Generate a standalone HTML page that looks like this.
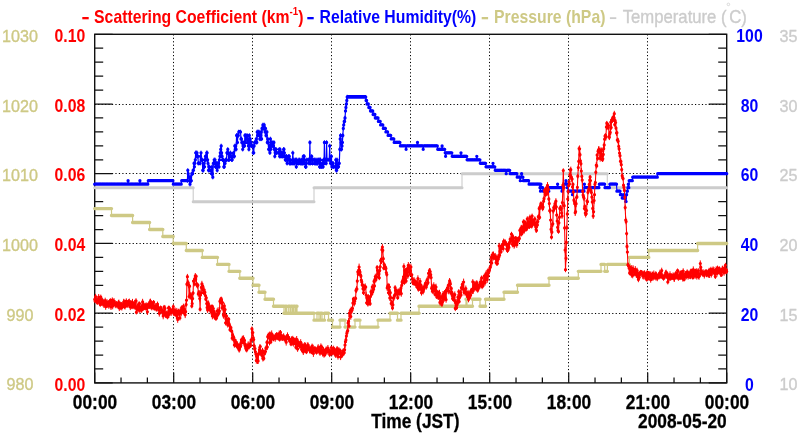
<!DOCTYPE html>
<html><head><meta charset="utf-8"><title>chart</title>
<style>
html,body{margin:0;padding:0;background:#fff;}
body{width:800px;height:434px;overflow:hidden;}
svg{display:block;font-family:"Liberation Sans",sans-serif;will-change:transform;}
</style></head><body>
<svg width="800" height="434" viewBox="0 0 800 434">
<rect width="800" height="434" fill="#fff"/>
<path d="M94.50 34.30V382.90M173.50 34.30V382.90M252.50 34.30V382.90M331.50 34.30V382.90M410.50 34.30V382.90M489.50 34.30V382.90M568.50 34.30V382.90M647.50 34.30V382.90M726.50 34.30V382.90M94.70 313.50H726.70M94.70 243.50H726.70M94.70 173.50H726.70M94.70 104.50H726.70" stroke="#000" stroke-width="1" stroke-dasharray="1.2 2.25" fill="none"/>
<path d="M94.70 382.90v-10.50M121.03 382.90v-5.50M147.37 382.90v-5.50M173.70 382.90v-10.50M200.03 382.90v-5.50M226.37 382.90v-5.50M252.70 382.90v-10.50M279.03 382.90v-5.50M305.37 382.90v-5.50M331.70 382.90v-10.50M358.03 382.90v-5.50M384.37 382.90v-5.50M410.70 382.90v-10.50M437.03 382.90v-5.50M463.37 382.90v-5.50M489.70 382.90v-10.50M516.03 382.90v-5.50M542.37 382.90v-5.50M568.70 382.90v-10.50M595.03 382.90v-5.50M621.37 382.90v-5.50M647.70 382.90v-10.50M674.03 382.90v-5.50M700.37 382.90v-5.50M726.70 382.90v-10.50M94.70 382.90h18.00M726.70 382.90h-18.00M94.70 368.96h8.50M726.70 368.96h-8.50M94.70 355.01h8.50M726.70 355.01h-8.50M94.70 341.07h8.50M726.70 341.07h-8.50M94.70 327.12h8.50M726.70 327.12h-8.50M94.70 313.18h18.00M726.70 313.18h-18.00M94.70 299.24h8.50M726.70 299.24h-8.50M94.70 285.29h8.50M726.70 285.29h-8.50M94.70 271.35h8.50M726.70 271.35h-8.50M94.70 257.40h8.50M726.70 257.40h-8.50M94.70 243.46h18.00M726.70 243.46h-18.00M94.70 229.52h8.50M726.70 229.52h-8.50M94.70 215.57h8.50M726.70 215.57h-8.50M94.70 201.63h8.50M726.70 201.63h-8.50M94.70 187.68h8.50M726.70 187.68h-8.50M94.70 173.74h18.00M726.70 173.74h-18.00M94.70 159.80h8.50M726.70 159.80h-8.50M94.70 145.85h8.50M726.70 145.85h-8.50M94.70 131.91h8.50M726.70 131.91h-8.50M94.70 117.96h8.50M726.70 117.96h-8.50M94.70 104.02h18.00M726.70 104.02h-18.00M94.70 90.08h8.50M726.70 90.08h-8.50M94.70 76.13h8.50M726.70 76.13h-8.50M94.70 62.19h8.50M726.70 62.19h-8.50M94.70 48.24h8.50M726.70 48.24h-8.50M94.70 34.30h18.00M726.70 34.30h-18.00" stroke="#111" stroke-width="1.25" fill="none"/>
<rect x="94.70" y="34.30" width="632.00" height="348.60" fill="none" stroke="#111" stroke-width="1.4"/>
<path d="M94.7 187.68H193.2V201.63H314.0V187.68H462.0V173.74H607.3V187.68H726.7" fill="none" stroke="#cccccc" stroke-width="1.1"/><path d="M94.7 187.68H193.2M193.2 201.63H314.0M314.0 187.68H462.0M462.0 173.74H607.3M607.3 187.68H726.7" fill="none" stroke="#cccccc" stroke-width="3.0" stroke-linecap="round"/>
<path d="M94.7 208.60H111.5V215.57H132.6V222.54H149.6V229.52H162.8V236.49H173.2V243.46H186.3V250.43H202.3V257.40H217.5V264.38H229.0V271.35H239.8V278.32H253.0V285.29H259.0V292.26H265.0V299.24H273.5V306.21H284.0V313.18H285.5V306.21H286.5V313.18H288.3V306.21H290.0V313.18H291.0V306.21H292.5V313.18H293.5V306.21H295.0V313.18H296.0V306.21H297.0V313.18H314.0V320.15H317.0V313.18H319.0V320.15H320.5V313.18H322.0V320.15H324.5V313.18H328.5V320.15H332.5V327.12H340.0V320.15H345.0V327.12H355.0V320.15H360.0V327.12H378.0V320.15H390.0V313.18H397.5V320.15H401.0V313.18H419.0V306.21H466.0V299.24H467.0V306.21H472.5V299.24H480.0V306.21H485.5V299.24H504.0V292.26H517.5V285.29H549.0V278.32H578.3V271.35H601.0V264.38H604.7V271.35H607.4V264.38H629.4V257.40H648.8V250.43H697.6V243.46H726.7" fill="none" stroke="#cec985" stroke-width="1.2"/><path d="M94.7 208.60H111.5M111.5 215.57H132.6M132.6 222.54H149.6M149.6 229.52H162.8M162.8 236.49H173.2M173.2 243.46H186.3M186.3 250.43H202.3M202.3 257.40H217.5M217.5 264.38H229.0M229.0 271.35H239.8M239.8 278.32H253.0M253.0 285.29H259.0M259.0 292.26H265.0M265.0 299.24H273.5M273.5 306.21H284.0M284.0 313.18H285.5M285.5 306.21H286.5M286.5 313.18H288.3M288.3 306.21H290.0M290.0 313.18H291.0M291.0 306.21H292.5M292.5 313.18H293.5M293.5 306.21H295.0M295.0 313.18H296.0M296.0 306.21H297.0M297.0 313.18H314.0M314.0 320.15H317.0M317.0 313.18H319.0M319.0 320.15H320.5M320.5 313.18H322.0M322.0 320.15H324.5M324.5 313.18H328.5M328.5 320.15H332.5M332.5 327.12H340.0M340.0 320.15H345.0M345.0 327.12H355.0M355.0 320.15H360.0M360.0 327.12H378.0M378.0 320.15H390.0M390.0 313.18H397.5M397.5 320.15H401.0M401.0 313.18H419.0M419.0 306.21H466.0M466.0 299.24H467.0M467.0 306.21H472.5M472.5 299.24H480.0M480.0 306.21H485.5M485.5 299.24H504.0M504.0 292.26H517.5M517.5 285.29H549.0M549.0 278.32H578.3M578.3 271.35H601.0M601.0 264.38H604.7M604.7 271.35H607.4M607.4 264.38H629.4M629.4 257.40H648.8M648.8 250.43H697.6M697.6 243.46H726.7" fill="none" stroke="#cec985" stroke-width="3.4" stroke-linecap="round"/>
<polyline points="94.7,184.2 95.1,184.2 95.6,184.2 96.0,184.2 96.5,184.2 96.9,184.2 97.3,184.2 97.8,184.2 98.2,184.2 98.7,184.2 99.1,184.2 99.5,184.2 100.0,184.2 100.4,184.2 100.8,184.2 101.3,184.2 101.7,184.2 102.2,184.2 102.6,184.2 103.0,184.2 103.5,184.2 103.9,184.2 104.4,184.2 104.8,184.2 105.2,184.2 105.7,184.2 106.1,184.2 106.6,184.2 107.0,184.2 107.4,184.2 107.9,184.2 108.3,184.2 108.8,184.2 109.2,184.2 109.6,184.2 110.1,184.2 110.5,184.2 111.0,184.2 111.4,184.2 111.8,184.2 112.3,184.2 112.7,184.2 113.1,184.2 113.6,184.2 114.0,184.2 114.5,184.2 114.9,184.2 115.3,184.2 115.8,184.2 116.2,184.2 116.7,184.2 117.1,184.2 117.5,184.2 118.0,184.2 118.4,184.2 118.9,184.2 119.3,184.2 119.7,184.2 120.2,184.2 120.6,184.2 121.1,184.2 121.5,184.2 121.9,184.2 122.4,184.2 122.8,184.2 123.2,184.2 123.7,184.2 124.1,184.2 124.6,184.2 125.0,184.2 125.4,184.2 125.9,184.2 126.3,184.2 126.8,184.2 127.2,184.2 127.6,184.2 128.1,180.7 128.5,184.2 129.0,184.2 129.4,184.2 129.8,184.2 130.3,184.2 130.7,184.2 131.2,184.2 131.6,184.2 132.0,184.2 132.5,184.2 132.9,184.2 133.3,184.2 133.8,184.2 134.2,184.2 134.7,184.2 135.1,184.2 135.5,184.2 136.0,184.2 136.4,184.2 136.9,184.2 137.3,184.2 137.7,184.2 138.2,184.2 138.6,184.2 139.1,184.2 139.5,184.2 139.9,180.7 140.4,184.2 140.8,184.2 141.3,184.2 141.7,184.2 142.1,184.2 142.6,184.2 143.0,184.2 143.5,184.2 143.9,184.2 144.3,184.2 144.8,184.2 145.2,184.2 145.6,184.2 146.1,184.2 146.5,184.2 147.0,184.2 147.4,184.2 147.8,184.2 148.3,180.7 148.7,180.7 149.2,180.7 149.6,180.7 150.0,180.7 150.5,180.7 150.9,180.7 151.4,180.7 151.8,180.7 152.2,180.7 152.7,180.7 153.1,180.7 153.6,180.7 154.0,180.7 154.4,180.7 154.9,180.7 155.3,180.7 155.7,180.7 156.2,180.7 156.6,180.7 157.1,180.7 157.5,180.7 157.9,180.7 158.4,180.7 158.8,180.7 159.3,180.7 159.7,180.7 160.1,180.7 160.6,180.7 161.0,180.7 161.5,180.7 161.9,180.7 162.3,180.7 162.8,180.7 163.2,180.7 163.7,180.7 164.1,180.7 164.5,180.7 165.0,180.7 165.4,180.7 165.8,180.7 166.3,180.7 166.7,180.7 167.2,180.7 167.6,180.7 168.0,180.7 168.5,180.7 168.9,180.7 169.4,180.7 169.8,180.7 170.2,180.7 170.7,180.7 171.1,180.7 171.6,180.7 172.0,180.7 172.4,180.7 172.9,180.7 173.3,184.2 173.8,184.2 174.2,184.2 174.6,184.2 175.1,184.2 175.5,184.2 176.0,184.2 176.4,184.2 176.8,184.2 177.3,184.2 177.7,184.2 178.1,184.2 178.6,184.2 179.0,184.2 179.5,184.2 179.9,184.2 180.3,184.2 180.8,184.2 181.2,184.2 181.7,180.7 182.1,180.7 182.5,180.7 183.0,180.7 183.4,180.7 183.9,180.7 184.3,180.7 184.7,180.7 185.2,180.7 185.6,180.7 186.1,180.7 186.5,180.7 186.9,180.7 187.4,180.7 187.8,170.3 188.2,173.7 188.7,177.2 189.1,177.2 189.6,180.7 190.0,184.2 190.4,177.2 190.9,180.7 191.3,180.7 191.8,173.7 192.2,173.7 192.6,173.7 193.1,170.3 193.5,170.3 194.0,163.3 194.4,166.8 194.8,163.3 195.3,159.8 195.7,152.8 196.2,152.8 196.6,156.3 197.0,152.8 197.5,156.3 197.9,156.3 198.3,163.3 198.8,163.3 199.2,163.3 199.7,163.3 200.1,163.3 200.5,156.3 201.0,152.8 201.4,159.8 201.9,159.8 202.3,159.8 202.7,170.3 203.2,170.3 203.6,166.8 204.1,163.3 204.5,166.8 204.9,159.8 205.4,156.3 205.8,159.8 206.3,156.3 206.7,152.8 207.1,152.8 207.6,159.8 208.0,163.3 208.5,170.3 208.9,166.8 209.3,166.8 209.8,170.3 210.2,170.3 210.6,170.3 211.1,170.3 211.5,173.7 212.0,166.8 212.4,173.7 212.8,177.2 213.3,163.3 213.7,163.3 214.2,159.8 214.6,163.3 215.0,159.8 215.5,166.8 215.9,163.3 216.4,163.3 216.8,166.8 217.2,170.3 217.7,163.3 218.1,163.3 218.6,163.3 219.0,166.8 219.4,159.8 219.9,156.3 220.3,152.8 220.7,149.3 221.2,145.9 221.6,152.8 222.1,156.3 222.5,159.8 222.9,159.8 223.4,159.8 223.8,166.8 224.3,166.8 224.7,163.3 225.1,163.3 225.6,159.8 226.0,159.8 226.5,159.8 226.9,152.8 227.3,152.8 227.8,149.3 228.2,152.8 228.7,159.8 229.1,159.8 229.5,156.3 230.0,156.3 230.4,152.8 230.9,156.3 231.3,156.3 231.7,159.8 232.2,159.8 232.6,156.3 233.0,156.3 233.5,152.8 233.9,156.3 234.4,156.3 234.8,145.9 235.2,149.3 235.7,145.9 236.1,149.3 236.6,135.4 237.0,135.4 237.4,142.4 237.9,135.4 238.3,135.4 238.8,131.9 239.2,131.9 239.6,131.9 240.1,131.9 240.5,131.9 241.0,138.9 241.4,138.9 241.8,142.4 242.3,142.4 242.7,149.3 243.1,145.9 243.6,145.9 244.0,142.4 244.5,145.9 244.9,135.4 245.3,142.4 245.8,135.4 246.2,138.9 246.7,138.9 247.1,135.4 247.5,142.4 248.0,138.9 248.4,145.9 248.9,149.3 249.3,135.4 249.7,145.9 250.2,138.9 250.6,142.4 251.1,142.4 251.5,145.9 251.9,145.9 252.4,145.9 252.8,145.9 253.2,152.8 253.7,152.8 254.1,145.9 254.6,142.4 255.0,142.4 255.4,142.4 255.9,142.4 256.3,138.9 256.8,142.4 257.2,131.9 257.6,135.4 258.1,131.9 258.5,131.9 259.0,131.9 259.4,135.4 259.8,138.9 260.3,138.9 260.7,135.4 261.2,131.9 261.6,138.9 262.0,128.4 262.5,128.4 262.9,124.9 263.4,128.4 263.8,128.4 264.2,124.9 264.7,128.4 265.1,131.9 265.5,128.4 266.0,135.4 266.4,135.4 266.9,131.9 267.3,142.4 267.7,138.9 268.2,142.4 268.6,149.3 269.1,149.3 269.5,145.9 269.9,152.8 270.4,138.9 270.8,149.3 271.3,142.4 271.7,145.9 272.1,142.4 272.6,145.9 273.0,145.9 273.5,145.9 273.9,142.4 274.3,149.3 274.8,156.3 275.2,152.8 275.6,149.3 276.1,149.3 276.5,152.8 277.0,152.8 277.4,152.8 277.8,152.8 278.3,152.8 278.7,152.8 279.2,149.3 279.6,156.3 280.0,149.3 280.5,152.8 280.9,156.3 281.4,152.8 281.8,152.8 282.2,156.3 282.7,152.8 283.1,156.3 283.6,149.3 284.0,149.3 284.4,152.8 284.9,156.3 285.3,159.8 285.7,159.8 286.2,156.3 286.6,156.3 287.1,163.3 287.5,159.8 287.9,159.8 288.4,156.3 288.8,159.8 289.3,156.3 289.7,163.3 290.1,163.3 290.6,159.8 291.0,163.3 291.5,163.3 291.9,163.3 292.3,163.3 292.8,152.8 293.2,159.8 293.7,163.3 294.1,163.3 294.5,163.3 295.0,159.8 295.4,159.8 295.9,159.8 296.3,166.8 296.7,159.8 297.2,163.3 297.6,163.3 298.0,163.3 298.5,163.3 298.9,159.8 299.4,159.8 299.8,159.8 300.2,163.3 300.7,163.3 301.1,163.3 301.6,159.8 302.0,163.3 302.4,163.3 302.9,159.8 303.3,156.3 303.8,163.3 304.2,156.3 304.6,159.8 305.1,163.3 305.5,166.8 306.0,166.8 306.4,163.3 306.8,159.8 307.3,159.8 307.7,159.8 308.1,159.8 308.6,159.8 309.0,163.3 309.5,159.8 309.9,142.4 310.3,163.3 310.8,159.8 311.2,159.8 311.7,156.3 312.1,159.8 312.5,163.3 313.0,159.8 313.4,159.8 313.9,159.8 314.3,159.8 314.7,163.3 315.2,159.8 315.6,163.3 316.1,163.3 316.5,163.3 316.9,159.8 317.4,163.3 317.8,163.3 318.2,159.8 318.7,159.8 319.1,159.8 319.6,166.8 320.0,159.8 320.4,159.8 320.9,166.8 321.3,166.8 321.8,166.8 322.2,163.3 322.6,163.3 323.1,166.8 323.5,159.8 324.0,163.3 324.4,142.4 324.8,159.8 325.3,159.8 325.7,159.8 326.2,163.3 326.6,142.4 327.0,159.8 327.5,159.8 327.9,159.8 328.4,159.8 328.8,159.8 329.2,159.8 329.7,145.9 330.1,159.8 330.5,163.3 331.0,163.3 331.4,156.3 331.9,166.8 332.3,163.3 332.7,163.3 333.2,163.3 333.6,166.8 334.1,166.8 334.5,166.8 334.9,166.8 335.4,166.8 335.8,159.8 336.3,170.3 336.7,170.3 337.1,159.8 337.6,166.8 338.0,166.8 338.5,166.8 338.9,163.3 339.3,163.3 339.8,149.3 340.2,138.9 340.6,135.4 341.1,142.4 341.5,149.3 342.0,145.9 342.4,142.4 342.8,135.4 343.3,128.4 343.7,124.9 344.2,121.4 344.6,121.4 345.0,118.0 345.5,111.0 345.9,107.5 346.4,104.0 346.8,100.5 347.2,97.0 347.7,97.0 348.1,97.0 348.6,97.0 349.0,97.0 349.4,97.0 349.9,97.0 350.3,97.0 350.8,97.0 351.2,97.0 351.6,97.0 352.1,97.0 352.5,97.0 352.9,97.0 353.4,97.0 353.8,97.0 354.3,97.0 354.7,97.0 355.1,97.0 355.6,97.0 356.0,97.0 356.5,97.0 356.9,97.0 357.3,97.0 357.8,97.0 358.2,97.0 358.7,97.0 359.1,97.0 359.5,97.0 360.0,97.0 360.4,97.0 360.9,97.0 361.3,97.0 361.7,97.0 362.2,97.0 362.6,97.0 363.0,97.0 363.5,97.0 363.9,97.0 364.4,97.0 364.8,97.0 365.2,97.0 365.7,97.0 366.1,100.5 366.6,100.5 367.0,104.0 367.4,104.0 367.9,104.0 368.3,104.0 368.8,107.5 369.2,107.5 369.6,107.5 370.1,107.5 370.5,111.0 371.0,111.0 371.4,111.0 371.8,111.0 372.3,111.0 372.7,111.0 373.1,114.5 373.6,114.5 374.0,114.5 374.5,114.5 374.9,114.5 375.3,118.0 375.8,118.0 376.2,118.0 376.7,118.0 377.1,118.0 377.5,118.0 378.0,118.0 378.4,121.4 378.9,121.4 379.3,121.4 379.7,121.4 380.2,121.4 380.6,124.9 381.1,124.9 381.5,124.9 381.9,124.9 382.4,124.9 382.8,124.9 383.3,128.4 383.7,128.4 384.1,128.4 384.6,128.4 385.0,128.4 385.4,128.4 385.9,131.9 386.3,131.9 386.8,131.9 387.2,131.9 387.6,131.9 388.1,135.4 388.5,135.4 389.0,135.4 389.4,135.4 389.8,135.4 390.3,135.4 390.7,135.4 391.2,138.9 391.6,138.9 392.0,138.9 392.5,138.9 392.9,138.9 393.4,138.9 393.8,138.9 394.2,142.4 394.7,142.4 395.1,142.4 395.5,142.4 396.0,142.4 396.4,142.4 396.9,142.4 397.3,142.4 397.7,142.4 398.2,142.4 398.6,142.4 399.1,142.4 399.5,142.4 399.9,142.4 400.4,145.9 400.8,145.9 401.3,145.9 401.7,145.9 402.1,145.9 402.6,145.9 403.0,145.9 403.5,145.9 403.9,145.9 404.3,145.9 404.8,145.9 405.2,145.9 405.6,145.9 406.1,149.3 406.5,145.9 407.0,145.9 407.4,145.9 407.8,145.9 408.3,145.9 408.7,145.9 409.2,145.9 409.6,145.9 410.0,145.9 410.5,145.9 410.9,145.9 411.4,145.9 411.8,145.9 412.2,145.9 412.7,145.9 413.1,145.9 413.6,145.9 414.0,145.9 414.4,145.9 414.9,145.9 415.3,145.9 415.8,145.9 416.2,145.9 416.6,145.9 417.1,145.9 417.5,142.4 417.9,145.9 418.4,145.9 418.8,145.9 419.3,145.9 419.7,145.9 420.1,145.9 420.6,145.9 421.0,145.9 421.5,145.9 421.9,145.9 422.3,145.9 422.8,145.9 423.2,149.3 423.7,145.9 424.1,145.9 424.5,145.9 425.0,145.9 425.4,145.9 425.9,145.9 426.3,145.9 426.7,145.9 427.2,145.9 427.6,145.9 428.0,145.9 428.5,145.9 428.9,145.9 429.4,145.9 429.8,145.9 430.2,145.9 430.7,145.9 431.1,145.9 431.6,145.9 432.0,145.9 432.4,145.9 432.9,145.9 433.3,145.9 433.8,145.9 434.2,145.9 434.6,145.9 435.1,145.9 435.5,145.9 436.0,145.9 436.4,145.9 436.8,145.9 437.3,145.9 437.7,149.3 438.1,149.3 438.6,149.3 439.0,149.3 439.5,149.3 439.9,149.3 440.3,149.3 440.8,149.3 441.2,149.3 441.7,149.3 442.1,145.9 442.5,149.3 443.0,149.3 443.4,149.3 443.9,149.3 444.3,149.3 444.7,149.3 445.2,152.8 445.6,156.3 446.1,152.8 446.5,152.8 446.9,152.8 447.4,152.8 447.8,152.8 448.3,152.8 448.7,152.8 449.1,152.8 449.6,152.8 450.0,152.8 450.4,152.8 450.9,152.8 451.3,152.8 451.8,152.8 452.2,156.3 452.6,156.3 453.1,156.3 453.5,156.3 454.0,156.3 454.4,156.3 454.8,156.3 455.3,156.3 455.7,156.3 456.2,156.3 456.6,156.3 457.0,156.3 457.5,156.3 457.9,156.3 458.4,156.3 458.8,156.3 459.2,156.3 459.7,156.3 460.1,156.3 460.5,156.3 461.0,152.8 461.4,156.3 461.9,156.3 462.3,156.3 462.7,156.3 463.2,156.3 463.6,156.3 464.1,156.3 464.5,156.3 464.9,156.3 465.4,156.3 465.8,156.3 466.3,156.3 466.7,156.3 467.1,159.8 467.6,159.8 468.0,159.8 468.5,159.8 468.9,159.8 469.3,159.8 469.8,159.8 470.2,159.8 470.6,159.8 471.1,159.8 471.5,159.8 472.0,159.8 472.4,159.8 472.8,159.8 473.3,159.8 473.7,159.8 474.2,159.8 474.6,159.8 475.0,159.8 475.5,159.8 475.9,159.8 476.4,159.8 476.8,156.3 477.2,159.8 477.7,159.8 478.1,159.8 478.6,159.8 479.0,159.8 479.4,159.8 479.9,159.8 480.3,163.3 480.8,163.3 481.2,163.3 481.6,163.3 482.1,163.3 482.5,163.3 482.9,163.3 483.4,163.3 483.8,163.3 484.3,163.3 484.7,163.3 485.1,163.3 485.6,163.3 486.0,166.8 486.5,166.8 486.9,166.8 487.3,166.8 487.8,166.8 488.2,166.8 488.7,166.8 489.1,166.8 489.5,166.8 490.0,166.8 490.4,166.8 490.9,166.8 491.3,166.8 491.7,166.8 492.2,166.8 492.6,166.8 493.0,163.3 493.5,166.8 493.9,166.8 494.4,166.8 494.8,166.8 495.2,170.3 495.7,170.3 496.1,170.3 496.6,170.3 497.0,170.3 497.4,170.3 497.9,170.3 498.3,170.3 498.8,170.3 499.2,170.3 499.6,170.3 500.1,170.3 500.5,170.3 501.0,170.3 501.4,170.3 501.8,170.3 502.3,170.3 502.7,170.3 503.2,170.3 503.6,170.3 504.0,170.3 504.5,170.3 504.9,170.3 505.3,170.3 505.8,170.3 506.2,173.7 506.7,170.3 507.1,170.3 507.5,170.3 508.0,170.3 508.4,170.3 508.9,170.3 509.3,170.3 509.7,170.3 510.2,173.7 510.6,173.7 511.1,173.7 511.5,173.7 511.9,173.7 512.4,173.7 512.8,173.7 513.3,173.7 513.7,173.7 514.1,173.7 514.6,173.7 515.0,173.7 515.4,173.7 515.9,173.7 516.3,173.7 516.8,173.7 517.2,177.2 517.6,177.2 518.1,177.2 518.5,177.2 519.0,177.2 519.4,177.2 519.8,177.2 520.3,180.7 520.7,177.2 521.2,177.2 521.6,173.7 522.0,177.2 522.5,177.2 522.9,177.2 523.4,180.7 523.8,180.7 524.2,180.7 524.7,180.7 525.1,180.7 525.5,180.7 526.0,180.7 526.4,180.7 526.9,180.7 527.3,180.7 527.7,180.7 528.2,180.7 528.6,180.7 529.1,184.2 529.5,184.2 529.9,184.2 530.4,184.2 530.8,184.2 531.3,184.2 531.7,184.2 532.1,184.2 532.6,184.2 533.0,184.2 533.5,184.2 533.9,184.2 534.3,184.2 534.8,184.2 535.2,184.2 535.7,184.2 536.1,184.2 536.5,184.2 537.0,184.2 537.4,184.2 537.8,184.2 538.3,184.2 538.7,184.2 539.2,184.2 539.6,184.2 540.0,187.7 540.5,191.2 540.9,184.2 541.4,187.7 541.8,187.7 542.2,187.7 542.7,187.7 543.1,191.2 543.6,191.2 544.0,191.2 544.4,191.2 544.9,191.2 545.3,191.2 545.8,191.2 546.2,191.2 546.6,191.2 547.1,191.2 547.5,191.2 547.9,191.2 548.4,191.2 548.8,191.2 549.3,187.7 549.7,187.7 550.1,187.7 550.6,187.7 551.0,187.7 551.5,187.7 551.9,187.7 552.3,187.7 552.8,187.7 553.2,187.7 553.7,187.7 554.1,187.7 554.5,187.7 555.0,187.7 555.4,187.7 555.9,187.7 556.3,187.7 556.7,187.7 557.2,187.7 557.6,184.2 558.0,187.7 558.5,187.7 558.9,187.7 559.4,187.7 559.8,187.7 560.2,187.7 560.7,187.7 561.1,187.7 561.6,187.7 562.0,191.2 562.4,187.7 562.9,187.7 563.3,187.7 563.8,187.7 564.2,184.2 564.6,184.2 565.1,184.2 565.5,184.2 566.0,180.7 566.4,184.2 566.8,184.2 567.3,187.7 567.7,184.2 568.2,191.2 568.6,191.2 569.0,191.2 569.5,191.2 569.9,191.2 570.3,191.2 570.8,191.2 571.2,191.2 571.7,191.2 572.1,191.2 572.5,194.7 573.0,191.2 573.4,191.2 573.9,191.2 574.3,191.2 574.7,191.2 575.2,191.2 575.6,191.2 576.1,191.2 576.5,191.2 576.9,191.2 577.4,191.2 577.8,191.2 578.3,191.2 578.7,191.2 579.1,191.2 579.6,191.2 580.0,191.2 580.4,191.2 580.9,191.2 581.3,191.2 581.8,191.2 582.2,191.2 582.6,191.2 583.1,191.2 583.5,191.2 584.0,191.2 584.4,184.2 584.8,187.7 585.3,187.7 585.7,187.7 586.2,187.7 586.6,187.7 587.0,187.7 587.5,187.7 587.9,187.7 588.4,187.7 588.8,187.7 589.2,187.7 589.7,187.7 590.1,187.7 590.5,187.7 591.0,187.7 591.4,187.7 591.9,187.7 592.3,187.7 592.7,187.7 593.2,187.7 593.6,187.7 594.1,187.7 594.5,187.7 594.9,187.7 595.4,187.7 595.8,187.7 596.3,187.7 596.7,187.7 597.1,187.7 597.6,187.7 598.0,187.7 598.5,187.7 598.9,187.7 599.3,184.2 599.8,184.2 600.2,184.2 600.7,184.2 601.1,184.2 601.5,184.2 602.0,184.2 602.4,184.2 602.8,184.2 603.3,184.2 603.7,184.2 604.2,184.2 604.6,184.2 605.0,187.7 605.5,187.7 605.9,187.7 606.4,187.7 606.8,187.7 607.2,187.7 607.7,187.7 608.1,187.7 608.6,187.7 609.0,187.7 609.4,187.7 609.9,184.2 610.3,184.2 610.8,184.2 611.2,184.2 611.6,184.2 612.1,184.2 612.5,184.2 612.9,184.2 613.4,184.2 613.8,184.2 614.3,184.2 614.7,184.2 615.1,184.2 615.6,184.2 616.0,184.2 616.5,184.2 616.9,191.2 617.3,191.2 617.8,191.2 618.2,191.2 618.7,191.2 619.1,191.2 619.5,191.2 620.0,191.2 620.4,194.7 620.9,194.7 621.3,194.7 621.7,194.7 622.2,198.1 622.6,198.1 623.1,198.1 623.5,198.1 623.9,194.7 624.4,198.1 624.8,198.1 625.2,198.1 625.7,201.6 626.1,201.6 626.6,194.7 627.0,191.2 627.4,191.2 627.9,187.7 628.3,184.2 628.8,187.7 629.2,180.7 629.6,180.7 630.1,180.7 630.5,180.7 631.0,180.7 631.4,180.7 631.8,180.7 632.3,180.7 632.7,177.2 633.2,177.2 633.6,177.2 634.0,177.2 634.5,177.2 634.9,177.2 635.3,177.2 635.8,177.2 636.2,177.2 636.7,177.2 637.1,177.2 637.5,177.2 638.0,177.2 638.4,177.2 638.9,177.2 639.3,177.2 639.7,177.2 640.2,177.2 640.6,177.2 641.1,177.2 641.5,177.2 641.9,177.2 642.4,177.2 642.8,177.2 643.3,177.2 643.7,177.2 644.1,177.2 644.6,177.2 645.0,177.2 645.4,177.2 645.9,177.2 646.3,177.2 646.8,177.2 647.2,177.2 647.6,177.2 648.1,177.2 648.5,177.2 649.0,177.2 649.4,177.2 649.8,177.2 650.3,177.2 650.7,177.2 651.2,177.2 651.6,177.2 652.0,177.2 652.5,177.2 652.9,177.2 653.4,177.2 653.8,177.2 654.2,177.2 654.7,177.2 655.1,177.2 655.6,177.2 656.0,177.2 656.4,177.2 656.9,177.2 657.3,177.2 657.7,173.7 658.2,173.7 658.6,173.7 659.1,173.7 659.5,173.7 659.9,173.7 660.4,173.7 660.8,173.7 661.3,173.7 661.7,173.7 662.1,173.7 662.6,173.7 663.0,173.7 663.5,173.7 663.9,173.7 664.3,173.7 664.8,173.7 665.2,173.7 665.7,173.7 666.1,173.7 666.5,173.7 667.0,173.7 667.4,173.7 667.8,173.7 668.3,173.7 668.7,173.7 669.2,173.7 669.6,173.7 670.0,173.7 670.5,173.7 670.9,173.7 671.4,173.7 671.8,173.7 672.2,173.7 672.7,173.7 673.1,173.7 673.6,173.7 674.0,173.7 674.4,173.7 674.9,173.7 675.3,173.7 675.8,173.7 676.2,173.7 676.6,173.7 677.1,173.7 677.5,173.7 677.9,173.7 678.4,173.7 678.8,173.7 679.3,173.7 679.7,173.7 680.1,173.7 680.6,173.7 681.0,173.7 681.5,173.7 681.9,173.7 682.3,173.7 682.8,173.7 683.2,173.7 683.7,173.7 684.1,173.7 684.5,173.7 685.0,173.7 685.4,173.7 685.9,173.7 686.3,173.7 686.7,173.7 687.2,173.7 687.6,173.7 688.1,173.7 688.5,173.7 688.9,173.7 689.4,173.7 689.8,173.7 690.2,173.7 690.7,173.7 691.1,173.7 691.6,173.7 692.0,173.7 692.4,173.7 692.9,173.7 693.3,173.7 693.8,173.7 694.2,173.7 694.6,173.7 695.1,173.7 695.5,173.7 696.0,173.7 696.4,173.7 696.8,173.7 697.3,173.7 697.7,173.7 698.2,173.7 698.6,173.7 699.0,173.7 699.5,173.7 699.9,173.7 700.3,173.7 700.8,173.7 701.2,173.7 701.7,173.7 702.1,173.7 702.5,173.7 703.0,173.7 703.4,173.7 703.9,173.7 704.3,173.7 704.7,173.7 705.2,173.7 705.6,173.7 706.1,173.7 706.5,173.7 706.9,173.7 707.4,173.7 707.8,173.7 708.3,173.7 708.7,173.7 709.1,173.7 709.6,173.7 710.0,173.7 710.4,173.7 710.9,173.7 711.3,173.7 711.8,173.7 712.2,173.7 712.6,173.7 713.1,173.7 713.5,173.7 714.0,173.7 714.4,173.7 714.8,173.7 715.3,173.7 715.7,173.7 716.2,173.7 716.6,173.7 717.0,173.7 717.5,173.7 717.9,173.7 718.4,173.7 718.8,173.7 719.2,173.7 719.7,173.7 720.1,173.7 720.6,173.7 721.0,173.7 721.4,173.7 721.9,173.7 722.3,173.7 722.7,173.7 723.2,173.7 723.6,173.7 724.1,173.7 724.5,173.7 724.9,173.7 725.4,173.7 725.8,173.7 726.3,173.7 726.7,173.7" fill="none" stroke="#0000ff" stroke-width="1.2" stroke-linejoin="round"/><path d="M94.7 184.2h.01M95.1 184.2h.01M95.6 184.2h.01M96.0 184.2h.01M96.5 184.2h.01M96.9 184.2h.01M97.3 184.2h.01M97.8 184.2h.01M98.2 184.2h.01M98.7 184.2h.01M99.1 184.2h.01M99.5 184.2h.01M100.0 184.2h.01M100.4 184.2h.01M100.8 184.2h.01M101.3 184.2h.01M101.7 184.2h.01M102.2 184.2h.01M102.6 184.2h.01M103.0 184.2h.01M103.5 184.2h.01M103.9 184.2h.01M104.4 184.2h.01M104.8 184.2h.01M105.2 184.2h.01M105.7 184.2h.01M106.1 184.2h.01M106.6 184.2h.01M107.0 184.2h.01M107.4 184.2h.01M107.9 184.2h.01M108.3 184.2h.01M108.8 184.2h.01M109.2 184.2h.01M109.6 184.2h.01M110.1 184.2h.01M110.5 184.2h.01M111.0 184.2h.01M111.4 184.2h.01M111.8 184.2h.01M112.3 184.2h.01M112.7 184.2h.01M113.1 184.2h.01M113.6 184.2h.01M114.0 184.2h.01M114.5 184.2h.01M114.9 184.2h.01M115.3 184.2h.01M115.8 184.2h.01M116.2 184.2h.01M116.7 184.2h.01M117.1 184.2h.01M117.5 184.2h.01M118.0 184.2h.01M118.4 184.2h.01M118.9 184.2h.01M119.3 184.2h.01M119.7 184.2h.01M120.2 184.2h.01M120.6 184.2h.01M121.1 184.2h.01M121.5 184.2h.01M121.9 184.2h.01M122.4 184.2h.01M122.8 184.2h.01M123.2 184.2h.01M123.7 184.2h.01M124.1 184.2h.01M124.6 184.2h.01M125.0 184.2h.01M125.4 184.2h.01M125.9 184.2h.01M126.3 184.2h.01M126.8 184.2h.01M127.2 184.2h.01M127.6 184.2h.01M128.1 180.7h.01M128.5 184.2h.01M129.0 184.2h.01M129.4 184.2h.01M129.8 184.2h.01M130.3 184.2h.01M130.7 184.2h.01M131.2 184.2h.01M131.6 184.2h.01M132.0 184.2h.01M132.5 184.2h.01M132.9 184.2h.01M133.3 184.2h.01M133.8 184.2h.01M134.2 184.2h.01M134.7 184.2h.01M135.1 184.2h.01M135.5 184.2h.01M136.0 184.2h.01M136.4 184.2h.01M136.9 184.2h.01M137.3 184.2h.01M137.7 184.2h.01M138.2 184.2h.01M138.6 184.2h.01M139.1 184.2h.01M139.5 184.2h.01M139.9 180.7h.01M140.4 184.2h.01M140.8 184.2h.01M141.3 184.2h.01M141.7 184.2h.01M142.1 184.2h.01M142.6 184.2h.01M143.0 184.2h.01M143.5 184.2h.01M143.9 184.2h.01M144.3 184.2h.01M144.8 184.2h.01M145.2 184.2h.01M145.6 184.2h.01M146.1 184.2h.01M146.5 184.2h.01M147.0 184.2h.01M147.4 184.2h.01M147.8 184.2h.01M148.3 180.7h.01M148.7 180.7h.01M149.2 180.7h.01M149.6 180.7h.01M150.0 180.7h.01M150.5 180.7h.01M150.9 180.7h.01M151.4 180.7h.01M151.8 180.7h.01M152.2 180.7h.01M152.7 180.7h.01M153.1 180.7h.01M153.6 180.7h.01M154.0 180.7h.01M154.4 180.7h.01M154.9 180.7h.01M155.3 180.7h.01M155.7 180.7h.01M156.2 180.7h.01M156.6 180.7h.01M157.1 180.7h.01M157.5 180.7h.01M157.9 180.7h.01M158.4 180.7h.01M158.8 180.7h.01M159.3 180.7h.01M159.7 180.7h.01M160.1 180.7h.01M160.6 180.7h.01M161.0 180.7h.01M161.5 180.7h.01M161.9 180.7h.01M162.3 180.7h.01M162.8 180.7h.01M163.2 180.7h.01M163.7 180.7h.01M164.1 180.7h.01M164.5 180.7h.01M165.0 180.7h.01M165.4 180.7h.01M165.8 180.7h.01M166.3 180.7h.01M166.7 180.7h.01M167.2 180.7h.01M167.6 180.7h.01M168.0 180.7h.01M168.5 180.7h.01M168.9 180.7h.01M169.4 180.7h.01M169.8 180.7h.01M170.2 180.7h.01M170.7 180.7h.01M171.1 180.7h.01M171.6 180.7h.01M172.0 180.7h.01M172.4 180.7h.01M172.9 180.7h.01M173.3 184.2h.01M173.8 184.2h.01M174.2 184.2h.01M174.6 184.2h.01M175.1 184.2h.01M175.5 184.2h.01M176.0 184.2h.01M176.4 184.2h.01M176.8 184.2h.01M177.3 184.2h.01M177.7 184.2h.01M178.1 184.2h.01M178.6 184.2h.01M179.0 184.2h.01M179.5 184.2h.01M179.9 184.2h.01M180.3 184.2h.01M180.8 184.2h.01M181.2 184.2h.01M181.7 180.7h.01M182.1 180.7h.01M182.5 180.7h.01M183.0 180.7h.01M183.4 180.7h.01M183.9 180.7h.01M184.3 180.7h.01M184.7 180.7h.01M185.2 180.7h.01M185.6 180.7h.01M186.1 180.7h.01M186.5 180.7h.01M186.9 180.7h.01M187.4 180.7h.01M187.8 170.3h.01M188.2 173.7h.01M188.7 177.2h.01M189.1 177.2h.01M189.6 180.7h.01M190.0 184.2h.01M190.4 177.2h.01M190.9 180.7h.01M191.3 180.7h.01M191.8 173.7h.01M192.2 173.7h.01M192.6 173.7h.01M193.1 170.3h.01M193.5 170.3h.01M194.0 163.3h.01M194.4 166.8h.01M194.8 163.3h.01M195.3 159.8h.01M195.7 152.8h.01M196.2 152.8h.01M196.6 156.3h.01M197.0 152.8h.01M197.5 156.3h.01M197.9 156.3h.01M198.3 163.3h.01M198.8 163.3h.01M199.2 163.3h.01M199.7 163.3h.01M200.1 163.3h.01M200.5 156.3h.01M201.0 152.8h.01M201.4 159.8h.01M201.9 159.8h.01M202.3 159.8h.01M202.7 170.3h.01M203.2 170.3h.01M203.6 166.8h.01M204.1 163.3h.01M204.5 166.8h.01M204.9 159.8h.01M205.4 156.3h.01M205.8 159.8h.01M206.3 156.3h.01M206.7 152.8h.01M207.1 152.8h.01M207.6 159.8h.01M208.0 163.3h.01M208.5 170.3h.01M208.9 166.8h.01M209.3 166.8h.01M209.8 170.3h.01M210.2 170.3h.01M210.6 170.3h.01M211.1 170.3h.01M211.5 173.7h.01M212.0 166.8h.01M212.4 173.7h.01M212.8 177.2h.01M213.3 163.3h.01M213.7 163.3h.01M214.2 159.8h.01M214.6 163.3h.01M215.0 159.8h.01M215.5 166.8h.01M215.9 163.3h.01M216.4 163.3h.01M216.8 166.8h.01M217.2 170.3h.01M217.7 163.3h.01M218.1 163.3h.01M218.6 163.3h.01M219.0 166.8h.01M219.4 159.8h.01M219.9 156.3h.01M220.3 152.8h.01M220.7 149.3h.01M221.2 145.9h.01M221.6 152.8h.01M222.1 156.3h.01M222.5 159.8h.01M222.9 159.8h.01M223.4 159.8h.01M223.8 166.8h.01M224.3 166.8h.01M224.7 163.3h.01M225.1 163.3h.01M225.6 159.8h.01M226.0 159.8h.01M226.5 159.8h.01M226.9 152.8h.01M227.3 152.8h.01M227.8 149.3h.01M228.2 152.8h.01M228.7 159.8h.01M229.1 159.8h.01M229.5 156.3h.01M230.0 156.3h.01M230.4 152.8h.01M230.9 156.3h.01M231.3 156.3h.01M231.7 159.8h.01M232.2 159.8h.01M232.6 156.3h.01M233.0 156.3h.01M233.5 152.8h.01M233.9 156.3h.01M234.4 156.3h.01M234.8 145.9h.01M235.2 149.3h.01M235.7 145.9h.01M236.1 149.3h.01M236.6 135.4h.01M237.0 135.4h.01M237.4 142.4h.01M237.9 135.4h.01M238.3 135.4h.01M238.8 131.9h.01M239.2 131.9h.01M239.6 131.9h.01M240.1 131.9h.01M240.5 131.9h.01M241.0 138.9h.01M241.4 138.9h.01M241.8 142.4h.01M242.3 142.4h.01M242.7 149.3h.01M243.1 145.9h.01M243.6 145.9h.01M244.0 142.4h.01M244.5 145.9h.01M244.9 135.4h.01M245.3 142.4h.01M245.8 135.4h.01M246.2 138.9h.01M246.7 138.9h.01M247.1 135.4h.01M247.5 142.4h.01M248.0 138.9h.01M248.4 145.9h.01M248.9 149.3h.01M249.3 135.4h.01M249.7 145.9h.01M250.2 138.9h.01M250.6 142.4h.01M251.1 142.4h.01M251.5 145.9h.01M251.9 145.9h.01M252.4 145.9h.01M252.8 145.9h.01M253.2 152.8h.01M253.7 152.8h.01M254.1 145.9h.01M254.6 142.4h.01M255.0 142.4h.01M255.4 142.4h.01M255.9 142.4h.01M256.3 138.9h.01M256.8 142.4h.01M257.2 131.9h.01M257.6 135.4h.01M258.1 131.9h.01M258.5 131.9h.01M259.0 131.9h.01M259.4 135.4h.01M259.8 138.9h.01M260.3 138.9h.01M260.7 135.4h.01M261.2 131.9h.01M261.6 138.9h.01M262.0 128.4h.01M262.5 128.4h.01M262.9 124.9h.01M263.4 128.4h.01M263.8 128.4h.01M264.2 124.9h.01M264.7 128.4h.01M265.1 131.9h.01M265.5 128.4h.01M266.0 135.4h.01M266.4 135.4h.01M266.9 131.9h.01M267.3 142.4h.01M267.7 138.9h.01M268.2 142.4h.01M268.6 149.3h.01M269.1 149.3h.01M269.5 145.9h.01M269.9 152.8h.01M270.4 138.9h.01M270.8 149.3h.01M271.3 142.4h.01M271.7 145.9h.01M272.1 142.4h.01M272.6 145.9h.01M273.0 145.9h.01M273.5 145.9h.01M273.9 142.4h.01M274.3 149.3h.01M274.8 156.3h.01M275.2 152.8h.01M275.6 149.3h.01M276.1 149.3h.01M276.5 152.8h.01M277.0 152.8h.01M277.4 152.8h.01M277.8 152.8h.01M278.3 152.8h.01M278.7 152.8h.01M279.2 149.3h.01M279.6 156.3h.01M280.0 149.3h.01M280.5 152.8h.01M280.9 156.3h.01M281.4 152.8h.01M281.8 152.8h.01M282.2 156.3h.01M282.7 152.8h.01M283.1 156.3h.01M283.6 149.3h.01M284.0 149.3h.01M284.4 152.8h.01M284.9 156.3h.01M285.3 159.8h.01M285.7 159.8h.01M286.2 156.3h.01M286.6 156.3h.01M287.1 163.3h.01M287.5 159.8h.01M287.9 159.8h.01M288.4 156.3h.01M288.8 159.8h.01M289.3 156.3h.01M289.7 163.3h.01M290.1 163.3h.01M290.6 159.8h.01M291.0 163.3h.01M291.5 163.3h.01M291.9 163.3h.01M292.3 163.3h.01M292.8 152.8h.01M293.2 159.8h.01M293.7 163.3h.01M294.1 163.3h.01M294.5 163.3h.01M295.0 159.8h.01M295.4 159.8h.01M295.9 159.8h.01M296.3 166.8h.01M296.7 159.8h.01M297.2 163.3h.01M297.6 163.3h.01M298.0 163.3h.01M298.5 163.3h.01M298.9 159.8h.01M299.4 159.8h.01M299.8 159.8h.01M300.2 163.3h.01M300.7 163.3h.01M301.1 163.3h.01M301.6 159.8h.01M302.0 163.3h.01M302.4 163.3h.01M302.9 159.8h.01M303.3 156.3h.01M303.8 163.3h.01M304.2 156.3h.01M304.6 159.8h.01M305.1 163.3h.01M305.5 166.8h.01M306.0 166.8h.01M306.4 163.3h.01M306.8 159.8h.01M307.3 159.8h.01M307.7 159.8h.01M308.1 159.8h.01M308.6 159.8h.01M309.0 163.3h.01M309.5 159.8h.01M309.9 142.4h.01M310.3 163.3h.01M310.8 159.8h.01M311.2 159.8h.01M311.7 156.3h.01M312.1 159.8h.01M312.5 163.3h.01M313.0 159.8h.01M313.4 159.8h.01M313.9 159.8h.01M314.3 159.8h.01M314.7 163.3h.01M315.2 159.8h.01M315.6 163.3h.01M316.1 163.3h.01M316.5 163.3h.01M316.9 159.8h.01M317.4 163.3h.01M317.8 163.3h.01M318.2 159.8h.01M318.7 159.8h.01M319.1 159.8h.01M319.6 166.8h.01M320.0 159.8h.01M320.4 159.8h.01M320.9 166.8h.01M321.3 166.8h.01M321.8 166.8h.01M322.2 163.3h.01M322.6 163.3h.01M323.1 166.8h.01M323.5 159.8h.01M324.0 163.3h.01M324.4 142.4h.01M324.8 159.8h.01M325.3 159.8h.01M325.7 159.8h.01M326.2 163.3h.01M326.6 142.4h.01M327.0 159.8h.01M327.5 159.8h.01M327.9 159.8h.01M328.4 159.8h.01M328.8 159.8h.01M329.2 159.8h.01M329.7 145.9h.01M330.1 159.8h.01M330.5 163.3h.01M331.0 163.3h.01M331.4 156.3h.01M331.9 166.8h.01M332.3 163.3h.01M332.7 163.3h.01M333.2 163.3h.01M333.6 166.8h.01M334.1 166.8h.01M334.5 166.8h.01M334.9 166.8h.01M335.4 166.8h.01M335.8 159.8h.01M336.3 170.3h.01M336.7 170.3h.01M337.1 159.8h.01M337.6 166.8h.01M338.0 166.8h.01M338.5 166.8h.01M338.9 163.3h.01M339.3 163.3h.01M339.8 149.3h.01M340.2 138.9h.01M340.6 135.4h.01M341.1 142.4h.01M341.5 149.3h.01M342.0 145.9h.01M342.4 142.4h.01M342.8 135.4h.01M343.3 128.4h.01M343.7 124.9h.01M344.2 121.4h.01M344.6 121.4h.01M345.0 118.0h.01M345.5 111.0h.01M345.9 107.5h.01M346.4 104.0h.01M346.8 100.5h.01M347.2 97.0h.01M347.7 97.0h.01M348.1 97.0h.01M348.6 97.0h.01M349.0 97.0h.01M349.4 97.0h.01M349.9 97.0h.01M350.3 97.0h.01M350.8 97.0h.01M351.2 97.0h.01M351.6 97.0h.01M352.1 97.0h.01M352.5 97.0h.01M352.9 97.0h.01M353.4 97.0h.01M353.8 97.0h.01M354.3 97.0h.01M354.7 97.0h.01M355.1 97.0h.01M355.6 97.0h.01M356.0 97.0h.01M356.5 97.0h.01M356.9 97.0h.01M357.3 97.0h.01M357.8 97.0h.01M358.2 97.0h.01M358.7 97.0h.01M359.1 97.0h.01M359.5 97.0h.01M360.0 97.0h.01M360.4 97.0h.01M360.9 97.0h.01M361.3 97.0h.01M361.7 97.0h.01M362.2 97.0h.01M362.6 97.0h.01M363.0 97.0h.01M363.5 97.0h.01M363.9 97.0h.01M364.4 97.0h.01M364.8 97.0h.01M365.2 97.0h.01M365.7 97.0h.01M366.1 100.5h.01M366.6 100.5h.01M367.0 104.0h.01M367.4 104.0h.01M367.9 104.0h.01M368.3 104.0h.01M368.8 107.5h.01M369.2 107.5h.01M369.6 107.5h.01M370.1 107.5h.01M370.5 111.0h.01M371.0 111.0h.01M371.4 111.0h.01M371.8 111.0h.01M372.3 111.0h.01M372.7 111.0h.01M373.1 114.5h.01M373.6 114.5h.01M374.0 114.5h.01M374.5 114.5h.01M374.9 114.5h.01M375.3 118.0h.01M375.8 118.0h.01M376.2 118.0h.01M376.7 118.0h.01M377.1 118.0h.01M377.5 118.0h.01M378.0 118.0h.01M378.4 121.4h.01M378.9 121.4h.01M379.3 121.4h.01M379.7 121.4h.01M380.2 121.4h.01M380.6 124.9h.01M381.1 124.9h.01M381.5 124.9h.01M381.9 124.9h.01M382.4 124.9h.01M382.8 124.9h.01M383.3 128.4h.01M383.7 128.4h.01M384.1 128.4h.01M384.6 128.4h.01M385.0 128.4h.01M385.4 128.4h.01M385.9 131.9h.01M386.3 131.9h.01M386.8 131.9h.01M387.2 131.9h.01M387.6 131.9h.01M388.1 135.4h.01M388.5 135.4h.01M389.0 135.4h.01M389.4 135.4h.01M389.8 135.4h.01M390.3 135.4h.01M390.7 135.4h.01M391.2 138.9h.01M391.6 138.9h.01M392.0 138.9h.01M392.5 138.9h.01M392.9 138.9h.01M393.4 138.9h.01M393.8 138.9h.01M394.2 142.4h.01M394.7 142.4h.01M395.1 142.4h.01M395.5 142.4h.01M396.0 142.4h.01M396.4 142.4h.01M396.9 142.4h.01M397.3 142.4h.01M397.7 142.4h.01M398.2 142.4h.01M398.6 142.4h.01M399.1 142.4h.01M399.5 142.4h.01M399.9 142.4h.01M400.4 145.9h.01M400.8 145.9h.01M401.3 145.9h.01M401.7 145.9h.01M402.1 145.9h.01M402.6 145.9h.01M403.0 145.9h.01M403.5 145.9h.01M403.9 145.9h.01M404.3 145.9h.01M404.8 145.9h.01M405.2 145.9h.01M405.6 145.9h.01M406.1 149.3h.01M406.5 145.9h.01M407.0 145.9h.01M407.4 145.9h.01M407.8 145.9h.01M408.3 145.9h.01M408.7 145.9h.01M409.2 145.9h.01M409.6 145.9h.01M410.0 145.9h.01M410.5 145.9h.01M410.9 145.9h.01M411.4 145.9h.01M411.8 145.9h.01M412.2 145.9h.01M412.7 145.9h.01M413.1 145.9h.01M413.6 145.9h.01M414.0 145.9h.01M414.4 145.9h.01M414.9 145.9h.01M415.3 145.9h.01M415.8 145.9h.01M416.2 145.9h.01M416.6 145.9h.01M417.1 145.9h.01M417.5 142.4h.01M417.9 145.9h.01M418.4 145.9h.01M418.8 145.9h.01M419.3 145.9h.01M419.7 145.9h.01M420.1 145.9h.01M420.6 145.9h.01M421.0 145.9h.01M421.5 145.9h.01M421.9 145.9h.01M422.3 145.9h.01M422.8 145.9h.01M423.2 149.3h.01M423.7 145.9h.01M424.1 145.9h.01M424.5 145.9h.01M425.0 145.9h.01M425.4 145.9h.01M425.9 145.9h.01M426.3 145.9h.01M426.7 145.9h.01M427.2 145.9h.01M427.6 145.9h.01M428.0 145.9h.01M428.5 145.9h.01M428.9 145.9h.01M429.4 145.9h.01M429.8 145.9h.01M430.2 145.9h.01M430.7 145.9h.01M431.1 145.9h.01M431.6 145.9h.01M432.0 145.9h.01M432.4 145.9h.01M432.9 145.9h.01M433.3 145.9h.01M433.8 145.9h.01M434.2 145.9h.01M434.6 145.9h.01M435.1 145.9h.01M435.5 145.9h.01M436.0 145.9h.01M436.4 145.9h.01M436.8 145.9h.01M437.3 145.9h.01M437.7 149.3h.01M438.1 149.3h.01M438.6 149.3h.01M439.0 149.3h.01M439.5 149.3h.01M439.9 149.3h.01M440.3 149.3h.01M440.8 149.3h.01M441.2 149.3h.01M441.7 149.3h.01M442.1 145.9h.01M442.5 149.3h.01M443.0 149.3h.01M443.4 149.3h.01M443.9 149.3h.01M444.3 149.3h.01M444.7 149.3h.01M445.2 152.8h.01M445.6 156.3h.01M446.1 152.8h.01M446.5 152.8h.01M446.9 152.8h.01M447.4 152.8h.01M447.8 152.8h.01M448.3 152.8h.01M448.7 152.8h.01M449.1 152.8h.01M449.6 152.8h.01M450.0 152.8h.01M450.4 152.8h.01M450.9 152.8h.01M451.3 152.8h.01M451.8 152.8h.01M452.2 156.3h.01M452.6 156.3h.01M453.1 156.3h.01M453.5 156.3h.01M454.0 156.3h.01M454.4 156.3h.01M454.8 156.3h.01M455.3 156.3h.01M455.7 156.3h.01M456.2 156.3h.01M456.6 156.3h.01M457.0 156.3h.01M457.5 156.3h.01M457.9 156.3h.01M458.4 156.3h.01M458.8 156.3h.01M459.2 156.3h.01M459.7 156.3h.01M460.1 156.3h.01M460.5 156.3h.01M461.0 152.8h.01M461.4 156.3h.01M461.9 156.3h.01M462.3 156.3h.01M462.7 156.3h.01M463.2 156.3h.01M463.6 156.3h.01M464.1 156.3h.01M464.5 156.3h.01M464.9 156.3h.01M465.4 156.3h.01M465.8 156.3h.01M466.3 156.3h.01M466.7 156.3h.01M467.1 159.8h.01M467.6 159.8h.01M468.0 159.8h.01M468.5 159.8h.01M468.9 159.8h.01M469.3 159.8h.01M469.8 159.8h.01M470.2 159.8h.01M470.6 159.8h.01M471.1 159.8h.01M471.5 159.8h.01M472.0 159.8h.01M472.4 159.8h.01M472.8 159.8h.01M473.3 159.8h.01M473.7 159.8h.01M474.2 159.8h.01M474.6 159.8h.01M475.0 159.8h.01M475.5 159.8h.01M475.9 159.8h.01M476.4 159.8h.01M476.8 156.3h.01M477.2 159.8h.01M477.7 159.8h.01M478.1 159.8h.01M478.6 159.8h.01M479.0 159.8h.01M479.4 159.8h.01M479.9 159.8h.01M480.3 163.3h.01M480.8 163.3h.01M481.2 163.3h.01M481.6 163.3h.01M482.1 163.3h.01M482.5 163.3h.01M482.9 163.3h.01M483.4 163.3h.01M483.8 163.3h.01M484.3 163.3h.01M484.7 163.3h.01M485.1 163.3h.01M485.6 163.3h.01M486.0 166.8h.01M486.5 166.8h.01M486.9 166.8h.01M487.3 166.8h.01M487.8 166.8h.01M488.2 166.8h.01M488.7 166.8h.01M489.1 166.8h.01M489.5 166.8h.01M490.0 166.8h.01M490.4 166.8h.01M490.9 166.8h.01M491.3 166.8h.01M491.7 166.8h.01M492.2 166.8h.01M492.6 166.8h.01M493.0 163.3h.01M493.5 166.8h.01M493.9 166.8h.01M494.4 166.8h.01M494.8 166.8h.01M495.2 170.3h.01M495.7 170.3h.01M496.1 170.3h.01M496.6 170.3h.01M497.0 170.3h.01M497.4 170.3h.01M497.9 170.3h.01M498.3 170.3h.01M498.8 170.3h.01M499.2 170.3h.01M499.6 170.3h.01M500.1 170.3h.01M500.5 170.3h.01M501.0 170.3h.01M501.4 170.3h.01M501.8 170.3h.01M502.3 170.3h.01M502.7 170.3h.01M503.2 170.3h.01M503.6 170.3h.01M504.0 170.3h.01M504.5 170.3h.01M504.9 170.3h.01M505.3 170.3h.01M505.8 170.3h.01M506.2 173.7h.01M506.7 170.3h.01M507.1 170.3h.01M507.5 170.3h.01M508.0 170.3h.01M508.4 170.3h.01M508.9 170.3h.01M509.3 170.3h.01M509.7 170.3h.01M510.2 173.7h.01M510.6 173.7h.01M511.1 173.7h.01M511.5 173.7h.01M511.9 173.7h.01M512.4 173.7h.01M512.8 173.7h.01M513.3 173.7h.01M513.7 173.7h.01M514.1 173.7h.01M514.6 173.7h.01M515.0 173.7h.01M515.4 173.7h.01M515.9 173.7h.01M516.3 173.7h.01M516.8 173.7h.01M517.2 177.2h.01M517.6 177.2h.01M518.1 177.2h.01M518.5 177.2h.01M519.0 177.2h.01M519.4 177.2h.01M519.8 177.2h.01M520.3 180.7h.01M520.7 177.2h.01M521.2 177.2h.01M521.6 173.7h.01M522.0 177.2h.01M522.5 177.2h.01M522.9 177.2h.01M523.4 180.7h.01M523.8 180.7h.01M524.2 180.7h.01M524.7 180.7h.01M525.1 180.7h.01M525.5 180.7h.01M526.0 180.7h.01M526.4 180.7h.01M526.9 180.7h.01M527.3 180.7h.01M527.7 180.7h.01M528.2 180.7h.01M528.6 180.7h.01M529.1 184.2h.01M529.5 184.2h.01M529.9 184.2h.01M530.4 184.2h.01M530.8 184.2h.01M531.3 184.2h.01M531.7 184.2h.01M532.1 184.2h.01M532.6 184.2h.01M533.0 184.2h.01M533.5 184.2h.01M533.9 184.2h.01M534.3 184.2h.01M534.8 184.2h.01M535.2 184.2h.01M535.7 184.2h.01M536.1 184.2h.01M536.5 184.2h.01M537.0 184.2h.01M537.4 184.2h.01M537.8 184.2h.01M538.3 184.2h.01M538.7 184.2h.01M539.2 184.2h.01M539.6 184.2h.01M540.0 187.7h.01M540.5 191.2h.01M540.9 184.2h.01M541.4 187.7h.01M541.8 187.7h.01M542.2 187.7h.01M542.7 187.7h.01M543.1 191.2h.01M543.6 191.2h.01M544.0 191.2h.01M544.4 191.2h.01M544.9 191.2h.01M545.3 191.2h.01M545.8 191.2h.01M546.2 191.2h.01M546.6 191.2h.01M547.1 191.2h.01M547.5 191.2h.01M547.9 191.2h.01M548.4 191.2h.01M548.8 191.2h.01M549.3 187.7h.01M549.7 187.7h.01M550.1 187.7h.01M550.6 187.7h.01M551.0 187.7h.01M551.5 187.7h.01M551.9 187.7h.01M552.3 187.7h.01M552.8 187.7h.01M553.2 187.7h.01M553.7 187.7h.01M554.1 187.7h.01M554.5 187.7h.01M555.0 187.7h.01M555.4 187.7h.01M555.9 187.7h.01M556.3 187.7h.01M556.7 187.7h.01M557.2 187.7h.01M557.6 184.2h.01M558.0 187.7h.01M558.5 187.7h.01M558.9 187.7h.01M559.4 187.7h.01M559.8 187.7h.01M560.2 187.7h.01M560.7 187.7h.01M561.1 187.7h.01M561.6 187.7h.01M562.0 191.2h.01M562.4 187.7h.01M562.9 187.7h.01M563.3 187.7h.01M563.8 187.7h.01M564.2 184.2h.01M564.6 184.2h.01M565.1 184.2h.01M565.5 184.2h.01M566.0 180.7h.01M566.4 184.2h.01M566.8 184.2h.01M567.3 187.7h.01M567.7 184.2h.01M568.2 191.2h.01M568.6 191.2h.01M569.0 191.2h.01M569.5 191.2h.01M569.9 191.2h.01M570.3 191.2h.01M570.8 191.2h.01M571.2 191.2h.01M571.7 191.2h.01M572.1 191.2h.01M572.5 194.7h.01M573.0 191.2h.01M573.4 191.2h.01M573.9 191.2h.01M574.3 191.2h.01M574.7 191.2h.01M575.2 191.2h.01M575.6 191.2h.01M576.1 191.2h.01M576.5 191.2h.01M576.9 191.2h.01M577.4 191.2h.01M577.8 191.2h.01M578.3 191.2h.01M578.7 191.2h.01M579.1 191.2h.01M579.6 191.2h.01M580.0 191.2h.01M580.4 191.2h.01M580.9 191.2h.01M581.3 191.2h.01M581.8 191.2h.01M582.2 191.2h.01M582.6 191.2h.01M583.1 191.2h.01M583.5 191.2h.01M584.0 191.2h.01M584.4 184.2h.01M584.8 187.7h.01M585.3 187.7h.01M585.7 187.7h.01M586.2 187.7h.01M586.6 187.7h.01M587.0 187.7h.01M587.5 187.7h.01M587.9 187.7h.01M588.4 187.7h.01M588.8 187.7h.01M589.2 187.7h.01M589.7 187.7h.01M590.1 187.7h.01M590.5 187.7h.01M591.0 187.7h.01M591.4 187.7h.01M591.9 187.7h.01M592.3 187.7h.01M592.7 187.7h.01M593.2 187.7h.01M593.6 187.7h.01M594.1 187.7h.01M594.5 187.7h.01M594.9 187.7h.01M595.4 187.7h.01M595.8 187.7h.01M596.3 187.7h.01M596.7 187.7h.01M597.1 187.7h.01M597.6 187.7h.01M598.0 187.7h.01M598.5 187.7h.01M598.9 187.7h.01M599.3 184.2h.01M599.8 184.2h.01M600.2 184.2h.01M600.7 184.2h.01M601.1 184.2h.01M601.5 184.2h.01M602.0 184.2h.01M602.4 184.2h.01M602.8 184.2h.01M603.3 184.2h.01M603.7 184.2h.01M604.2 184.2h.01M604.6 184.2h.01M605.0 187.7h.01M605.5 187.7h.01M605.9 187.7h.01M606.4 187.7h.01M606.8 187.7h.01M607.2 187.7h.01M607.7 187.7h.01M608.1 187.7h.01M608.6 187.7h.01M609.0 187.7h.01M609.4 187.7h.01M609.9 184.2h.01M610.3 184.2h.01M610.8 184.2h.01M611.2 184.2h.01M611.6 184.2h.01M612.1 184.2h.01M612.5 184.2h.01M612.9 184.2h.01M613.4 184.2h.01M613.8 184.2h.01M614.3 184.2h.01M614.7 184.2h.01M615.1 184.2h.01M615.6 184.2h.01M616.0 184.2h.01M616.5 184.2h.01M616.9 191.2h.01M617.3 191.2h.01M617.8 191.2h.01M618.2 191.2h.01M618.7 191.2h.01M619.1 191.2h.01M619.5 191.2h.01M620.0 191.2h.01M620.4 194.7h.01M620.9 194.7h.01M621.3 194.7h.01M621.7 194.7h.01M622.2 198.1h.01M622.6 198.1h.01M623.1 198.1h.01M623.5 198.1h.01M623.9 194.7h.01M624.4 198.1h.01M624.8 198.1h.01M625.2 198.1h.01M625.7 201.6h.01M626.1 201.6h.01M626.6 194.7h.01M627.0 191.2h.01M627.4 191.2h.01M627.9 187.7h.01M628.3 184.2h.01M628.8 187.7h.01M629.2 180.7h.01M629.6 180.7h.01M630.1 180.7h.01M630.5 180.7h.01M631.0 180.7h.01M631.4 180.7h.01M631.8 180.7h.01M632.3 180.7h.01M632.7 177.2h.01M633.2 177.2h.01M633.6 177.2h.01M634.0 177.2h.01M634.5 177.2h.01M634.9 177.2h.01M635.3 177.2h.01M635.8 177.2h.01M636.2 177.2h.01M636.7 177.2h.01M637.1 177.2h.01M637.5 177.2h.01M638.0 177.2h.01M638.4 177.2h.01M638.9 177.2h.01M639.3 177.2h.01M639.7 177.2h.01M640.2 177.2h.01M640.6 177.2h.01M641.1 177.2h.01M641.5 177.2h.01M641.9 177.2h.01M642.4 177.2h.01M642.8 177.2h.01M643.3 177.2h.01M643.7 177.2h.01M644.1 177.2h.01M644.6 177.2h.01M645.0 177.2h.01M645.4 177.2h.01M645.9 177.2h.01M646.3 177.2h.01M646.8 177.2h.01M647.2 177.2h.01M647.6 177.2h.01M648.1 177.2h.01M648.5 177.2h.01M649.0 177.2h.01M649.4 177.2h.01M649.8 177.2h.01M650.3 177.2h.01M650.7 177.2h.01M651.2 177.2h.01M651.6 177.2h.01M652.0 177.2h.01M652.5 177.2h.01M652.9 177.2h.01M653.4 177.2h.01M653.8 177.2h.01M654.2 177.2h.01M654.7 177.2h.01M655.1 177.2h.01M655.6 177.2h.01M656.0 177.2h.01M656.4 177.2h.01M656.9 177.2h.01M657.3 177.2h.01M657.7 173.7h.01M658.2 173.7h.01M658.6 173.7h.01M659.1 173.7h.01M659.5 173.7h.01M659.9 173.7h.01M660.4 173.7h.01M660.8 173.7h.01M661.3 173.7h.01M661.7 173.7h.01M662.1 173.7h.01M662.6 173.7h.01M663.0 173.7h.01M663.5 173.7h.01M663.9 173.7h.01M664.3 173.7h.01M664.8 173.7h.01M665.2 173.7h.01M665.7 173.7h.01M666.1 173.7h.01M666.5 173.7h.01M667.0 173.7h.01M667.4 173.7h.01M667.8 173.7h.01M668.3 173.7h.01M668.7 173.7h.01M669.2 173.7h.01M669.6 173.7h.01M670.0 173.7h.01M670.5 173.7h.01M670.9 173.7h.01M671.4 173.7h.01M671.8 173.7h.01M672.2 173.7h.01M672.7 173.7h.01M673.1 173.7h.01M673.6 173.7h.01M674.0 173.7h.01M674.4 173.7h.01M674.9 173.7h.01M675.3 173.7h.01M675.8 173.7h.01M676.2 173.7h.01M676.6 173.7h.01M677.1 173.7h.01M677.5 173.7h.01M677.9 173.7h.01M678.4 173.7h.01M678.8 173.7h.01M679.3 173.7h.01M679.7 173.7h.01M680.1 173.7h.01M680.6 173.7h.01M681.0 173.7h.01M681.5 173.7h.01M681.9 173.7h.01M682.3 173.7h.01M682.8 173.7h.01M683.2 173.7h.01M683.7 173.7h.01M684.1 173.7h.01M684.5 173.7h.01M685.0 173.7h.01M685.4 173.7h.01M685.9 173.7h.01M686.3 173.7h.01M686.7 173.7h.01M687.2 173.7h.01M687.6 173.7h.01M688.1 173.7h.01M688.5 173.7h.01M688.9 173.7h.01M689.4 173.7h.01M689.8 173.7h.01M690.2 173.7h.01M690.7 173.7h.01M691.1 173.7h.01M691.6 173.7h.01M692.0 173.7h.01M692.4 173.7h.01M692.9 173.7h.01M693.3 173.7h.01M693.8 173.7h.01M694.2 173.7h.01M694.6 173.7h.01M695.1 173.7h.01M695.5 173.7h.01M696.0 173.7h.01M696.4 173.7h.01M696.8 173.7h.01M697.3 173.7h.01M697.7 173.7h.01M698.2 173.7h.01M698.6 173.7h.01M699.0 173.7h.01M699.5 173.7h.01M699.9 173.7h.01M700.3 173.7h.01M700.8 173.7h.01M701.2 173.7h.01M701.7 173.7h.01M702.1 173.7h.01M702.5 173.7h.01M703.0 173.7h.01M703.4 173.7h.01M703.9 173.7h.01M704.3 173.7h.01M704.7 173.7h.01M705.2 173.7h.01M705.6 173.7h.01M706.1 173.7h.01M706.5 173.7h.01M706.9 173.7h.01M707.4 173.7h.01M707.8 173.7h.01M708.3 173.7h.01M708.7 173.7h.01M709.1 173.7h.01M709.6 173.7h.01M710.0 173.7h.01M710.4 173.7h.01M710.9 173.7h.01M711.3 173.7h.01M711.8 173.7h.01M712.2 173.7h.01M712.6 173.7h.01M713.1 173.7h.01M713.5 173.7h.01M714.0 173.7h.01M714.4 173.7h.01M714.8 173.7h.01M715.3 173.7h.01M715.7 173.7h.01M716.2 173.7h.01M716.6 173.7h.01M717.0 173.7h.01M717.5 173.7h.01M717.9 173.7h.01M718.4 173.7h.01M718.8 173.7h.01M719.2 173.7h.01M719.7 173.7h.01M720.1 173.7h.01M720.6 173.7h.01M721.0 173.7h.01M721.4 173.7h.01M721.9 173.7h.01M722.3 173.7h.01M722.7 173.7h.01M723.2 173.7h.01M723.6 173.7h.01M724.1 173.7h.01M724.5 173.7h.01M724.9 173.7h.01M725.4 173.7h.01M725.8 173.7h.01M726.3 173.7h.01M726.7 173.7h.01" stroke="#0000ff" stroke-width="3.3" stroke-linecap="round" fill="none"/><path d="M187.4 178.5V182.9M187.8 168.1V172.5M188.2 171.5V175.9M188.7 175.0V179.4M189.1 175.0V179.4M189.6 178.5V182.9M190.0 182.0V186.4M190.4 175.0V179.4M190.9 178.5V182.9M191.3 178.5V182.9M191.8 171.5V175.9M192.6 171.5V175.9M193.1 168.1V172.5M193.5 168.1V172.5M194.0 161.1V165.5M194.4 164.6V169.0M194.8 161.1V165.5M195.3 157.6V162.0M195.7 150.6V155.0M196.2 150.6V155.0M196.6 154.1V158.5M197.0 150.6V155.0M197.5 154.1V158.5M197.9 154.1V158.5M198.3 161.1V165.5M200.1 161.1V165.5M200.5 154.1V158.5M201.0 150.6V155.0M201.4 157.6V162.0M202.3 157.6V162.0M202.7 168.1V172.5M203.2 168.1V172.5M203.6 164.6V169.0M204.1 161.1V165.5M204.5 164.6V169.0M204.9 157.6V162.0M205.4 154.1V158.5M205.8 157.6V162.0M206.3 154.1V158.5M206.7 150.6V155.0M207.1 150.6V155.0M207.6 157.6V162.0M208.0 161.1V165.5M208.5 168.1V172.5M208.9 164.6V169.0M209.3 164.6V169.0M209.8 168.1V172.5M211.1 168.1V172.5M211.5 171.5V175.9M212.0 164.6V169.0M212.4 171.5V175.9M212.8 175.0V179.4M213.3 161.1V165.5M213.7 161.1V165.5M214.2 157.6V162.0M214.6 161.1V165.5M215.0 157.6V162.0M215.5 164.6V169.0M215.9 161.1V165.5M216.4 161.1V165.5M216.8 164.6V169.0M217.2 168.1V172.5M217.7 161.1V165.5M218.6 161.1V165.5M219.0 164.6V169.0M219.4 157.6V162.0M219.9 154.1V158.5M220.3 150.6V155.0M220.7 147.1V151.5M221.2 143.7V148.1M221.6 150.6V155.0M222.1 154.1V158.5M222.5 157.6V162.0M223.4 157.6V162.0M223.8 164.6V169.0M224.3 164.6V169.0M224.7 161.1V165.5M225.1 161.1V165.5M225.6 157.6V162.0M226.5 157.6V162.0M226.9 150.6V155.0M227.3 150.6V155.0M227.8 147.1V151.5M228.2 150.6V155.0M228.7 157.6V162.0M229.1 157.6V162.0M229.5 154.1V158.5M230.0 154.1V158.5M230.4 150.6V155.0M230.9 154.1V158.5M231.3 154.1V158.5M231.7 157.6V162.0M232.2 157.6V162.0M232.6 154.1V158.5M233.0 154.1V158.5M233.5 150.6V155.0M233.9 154.1V158.5M234.4 154.1V158.5M234.8 143.7V148.1M235.2 147.1V151.5M235.7 143.7V148.1M236.1 147.1V151.5M236.6 133.2V137.6M237.0 133.2V137.6M237.4 140.2V144.6M237.9 133.2V137.6M238.3 133.2V137.6M238.8 129.7V134.1M240.5 129.7V134.1M241.0 136.7V141.1M241.4 136.7V141.1M241.8 140.2V144.6M242.3 140.2V144.6M242.7 147.1V151.5M243.1 143.7V148.1M243.6 143.7V148.1M244.0 140.2V144.6M244.5 143.7V148.1M244.9 133.2V137.6M245.3 140.2V144.6M245.8 133.2V137.6M246.2 136.7V141.1M246.7 136.7V141.1M247.1 133.2V137.6M247.5 140.2V144.6M248.0 136.7V141.1M248.4 143.7V148.1M248.9 147.1V151.5M249.3 133.2V137.6M249.7 143.7V148.1M250.2 136.7V141.1M250.6 140.2V144.6M251.1 140.2V144.6M251.5 143.7V148.1M252.8 143.7V148.1M253.2 150.6V155.0M253.7 150.6V155.0M254.1 143.7V148.1M254.6 140.2V144.6M255.9 140.2V144.6M256.3 136.7V141.1M256.8 140.2V144.6M257.2 129.7V134.1M257.6 133.2V137.6M258.1 129.7V134.1M259.0 129.7V134.1M259.4 133.2V137.6M259.8 136.7V141.1M260.3 136.7V141.1M260.7 133.2V137.6M261.2 129.7V134.1M261.6 136.7V141.1M262.0 126.2V130.6M262.5 126.2V130.6M262.9 122.7V127.1M263.4 126.2V130.6M263.8 126.2V130.6M264.2 122.7V127.1M264.7 126.2V130.6M265.1 129.7V134.1M265.5 126.2V130.6M266.0 133.2V137.6M266.4 133.2V137.6M266.9 129.7V134.1M267.3 140.2V144.6M267.7 136.7V141.1M268.2 140.2V144.6M268.6 147.1V151.5M269.1 147.1V151.5M269.5 143.7V148.1M269.9 150.6V155.0M270.4 136.7V141.1M270.8 147.1V151.5M271.3 140.2V144.6M271.7 143.7V148.1M272.1 140.2V144.6M272.6 143.7V148.1M273.5 143.7V148.1M273.9 140.2V144.6M274.3 147.1V151.5M274.8 154.1V158.5M275.2 150.6V155.0M275.6 147.1V151.5M276.1 147.1V151.5M276.5 150.6V155.0M278.7 150.6V155.0M279.2 147.1V151.5M279.6 154.1V158.5M280.0 147.1V151.5M280.5 150.6V155.0M280.9 154.1V158.5M281.4 150.6V155.0M281.8 150.6V155.0M282.2 154.1V158.5M282.7 150.6V155.0M283.1 154.1V158.5M283.6 147.1V151.5M284.0 147.1V151.5M284.4 150.6V155.0M284.9 154.1V158.5M285.3 157.6V162.0M285.7 157.6V162.0M286.2 154.1V158.5M286.6 154.1V158.5M287.1 161.1V165.5M287.5 157.6V162.0M287.9 157.6V162.0M288.4 154.1V158.5M288.8 157.6V162.0M289.3 154.1V158.5M289.7 161.1V165.5M290.1 161.1V165.5M290.6 157.6V162.0M291.0 161.1V165.5M292.3 161.1V165.5M292.8 150.6V155.0M293.2 157.6V162.0M293.7 161.1V165.5M294.5 161.1V165.5M295.0 157.6V162.0M295.9 157.6V162.0M296.3 164.6V169.0M296.7 157.6V162.0M297.2 161.1V165.5M298.5 161.1V165.5M298.9 157.6V162.0M299.8 157.6V162.0M300.2 161.1V165.5M301.1 161.1V165.5M301.6 157.6V162.0M302.0 161.1V165.5M302.4 161.1V165.5M302.9 157.6V162.0M303.3 154.1V158.5M303.8 161.1V165.5M304.2 154.1V158.5M304.6 157.6V162.0M305.1 161.1V165.5M305.5 164.6V169.0M306.0 164.6V169.0M306.4 161.1V165.5M306.8 157.6V162.0M308.6 157.6V162.0M309.0 161.1V165.5M309.5 157.6V162.0M309.9 140.2V144.6M310.3 161.1V165.5M310.8 157.6V162.0M311.2 157.6V162.0M311.7 154.1V158.5M312.1 157.6V162.0M312.5 161.1V165.5M313.0 157.6V162.0M314.3 157.6V162.0M314.7 161.1V165.5M315.2 157.6V162.0M315.6 161.1V165.5M316.5 161.1V165.5M316.9 157.6V162.0M317.4 161.1V165.5M317.8 161.1V165.5M318.2 157.6V162.0M319.1 157.6V162.0M319.6 164.6V169.0M320.0 157.6V162.0M320.4 157.6V162.0M320.9 164.6V169.0M321.8 164.6V169.0M322.2 161.1V165.5M322.6 161.1V165.5M323.1 164.6V169.0M323.5 157.6V162.0M324.0 161.1V165.5M324.4 140.2V144.6M324.8 157.6V162.0M325.7 157.6V162.0M326.2 161.1V165.5M326.6 140.2V144.6M327.0 157.6V162.0M329.2 157.6V162.0M329.7 143.7V148.1M330.1 157.6V162.0M330.5 161.1V165.5M331.0 161.1V165.5M331.4 154.1V158.5M331.9 164.6V169.0M332.3 161.1V165.5M333.2 161.1V165.5M333.6 164.6V169.0M335.4 164.6V169.0M335.8 157.6V162.0M336.3 168.1V172.5M336.7 168.1V172.5M337.1 157.6V162.0M337.6 164.6V169.0M338.5 164.6V169.0M338.9 161.1V165.5M339.3 161.1V165.5M339.8 147.1V151.5M340.2 136.7V141.1M340.6 133.2V137.6M341.1 140.2V144.6M341.5 147.1V151.5M342.0 143.7V148.1M342.4 140.2V144.6M342.8 133.2V137.6M343.3 126.2V130.6M343.7 122.7V127.1M344.2 119.2V123.6M344.6 119.2V123.6M345.0 115.8V120.2M345.5 108.8V113.2M345.9 105.3V109.7M346.4 101.8V106.2M346.8 98.3V102.7M347.2 94.8V99.2" stroke="#0000ff" stroke-width="0.9" fill="none"/>
<polyline points="94.7,299.4 95.1,301.0 95.6,296.7 96.0,300.1 96.5,301.5 96.9,301.3 97.3,302.1 97.8,302.2 98.2,299.7 98.7,297.2 99.1,302.3 99.5,302.6 100.0,303.0 100.4,304.4 100.8,297.2 101.3,302.1 101.7,302.7 102.2,300.3 102.6,302.5 103.0,303.8 103.5,302.0 103.9,304.9 104.4,302.3 104.8,302.5 105.2,300.6 105.7,306.7 106.1,305.1 106.6,304.1 107.0,302.1 107.4,304.5 107.9,303.8 108.3,303.4 108.8,305.8 109.2,304.2 109.6,302.1 110.1,301.1 110.5,300.5 111.0,306.9 111.4,301.9 111.8,303.4 112.3,300.1 112.7,306.1 113.1,302.4 113.6,304.6 114.0,301.0 114.5,303.0 114.9,303.0 115.3,305.0 115.8,304.1 116.2,304.1 116.7,304.3 117.1,305.7 117.5,304.4 118.0,305.8 118.4,303.3 118.9,302.6 119.3,308.0 119.7,304.6 120.2,303.8 120.6,306.8 121.1,307.4 121.5,305.2 121.9,307.3 122.4,306.7 122.8,304.7 123.2,304.7 123.7,302.0 124.1,301.5 124.6,306.7 125.0,306.5 125.4,304.3 125.9,305.4 126.3,301.2 126.8,304.2 127.2,305.3 127.6,302.7 128.1,303.1 128.5,301.7 129.0,304.9 129.4,302.0 129.8,304.6 130.3,306.9 130.7,302.3 131.2,302.9 131.6,305.3 132.0,307.2 132.5,302.3 132.9,305.6 133.3,304.4 133.8,305.9 134.2,306.9 134.7,303.1 135.1,306.8 135.5,306.6 136.0,300.8 136.4,312.3 136.9,309.0 137.3,308.1 137.7,306.8 138.2,304.8 138.6,305.4 139.1,310.2 139.5,303.6 139.9,310.2 140.4,308.2 140.8,308.1 141.3,309.4 141.7,310.0 142.1,305.7 142.6,301.9 143.0,308.8 143.5,306.0 143.9,307.1 144.3,308.0 144.8,305.3 145.2,305.7 145.6,307.9 146.1,305.3 146.5,307.8 147.0,305.0 147.4,311.8 147.8,305.5 148.3,306.0 148.7,304.7 149.2,306.2 149.6,306.0 150.0,302.2 150.5,301.3 150.9,306.1 151.4,303.7 151.8,307.8 152.2,305.1 152.7,303.4 153.1,306.2 153.6,302.1 154.0,307.3 154.4,308.2 154.9,306.4 155.3,307.7 155.7,306.4 156.2,308.7 156.6,308.3 157.1,308.7 157.5,304.0 157.9,307.6 158.4,307.5 158.8,309.4 159.3,313.3 159.7,312.5 160.1,308.9 160.6,307.6 161.0,309.4 161.5,309.8 161.9,309.8 162.3,312.1 162.8,310.9 163.2,316.0 163.7,313.4 164.1,307.1 164.5,312.6 165.0,308.3 165.4,314.1 165.8,314.8 166.3,315.9 166.7,313.1 167.2,313.1 167.6,316.9 168.0,314.9 168.5,307.9 168.9,314.4 169.4,308.2 169.8,310.7 170.2,310.5 170.7,311.4 171.1,312.7 171.6,311.6 172.0,311.1 172.4,309.6 172.9,311.2 173.3,306.6 173.8,311.9 174.2,314.2 174.6,311.0 175.1,310.5 175.5,312.2 176.0,314.1 176.4,315.2 176.8,311.0 177.3,318.0 177.7,319.5 178.1,312.7 178.6,312.0 179.0,312.2 179.5,313.4 179.9,318.0 180.3,310.8 180.8,312.3 181.2,313.1 181.7,307.5 182.1,309.8 182.5,310.2 183.0,309.4 183.4,306.4 183.9,308.9 184.3,313.2 184.7,310.9 185.2,314.8 185.6,311.7 186.1,304.5 186.5,300.2 186.9,284.2 187.4,276.7 187.8,282.7 188.2,282.9 188.7,284.9 189.1,296.5 189.6,286.2 190.0,295.5 190.4,295.0 190.9,297.4 191.3,295.7 191.8,306.1 192.2,303.5 192.6,298.6 193.1,293.1 193.5,281.1 194.0,281.6 194.4,283.5 194.8,278.6 195.3,275.9 195.7,279.0 196.2,276.3 196.6,284.8 197.0,284.5 197.5,285.6 197.9,285.2 198.3,294.1 198.8,292.6 199.2,292.8 199.7,298.5 200.1,309.3 200.5,295.0 201.0,292.8 201.4,287.4 201.9,283.9 202.3,287.4 202.7,286.2 203.2,290.0 203.6,292.7 204.1,289.8 204.5,292.3 204.9,292.3 205.4,295.5 205.8,299.2 206.3,297.8 206.7,303.6 207.1,307.5 207.6,310.1 208.0,302.5 208.5,304.0 208.9,307.6 209.3,307.3 209.8,309.7 210.2,307.1 210.6,309.8 211.1,312.1 211.5,311.6 212.0,306.3 212.4,316.0 212.8,310.4 213.3,308.6 213.7,311.3 214.2,313.6 214.6,317.2 215.0,313.5 215.5,316.7 215.9,318.5 216.4,318.2 216.8,316.4 217.2,311.0 217.7,314.8 218.1,310.5 218.6,313.2 219.0,312.5 219.4,311.0 219.9,301.3 220.3,300.7 220.7,301.3 221.2,298.7 221.6,302.5 222.1,307.9 222.5,302.5 222.9,307.3 223.4,314.8 223.8,315.9 224.3,305.8 224.7,314.9 225.1,309.5 225.6,322.8 226.0,319.0 226.5,316.0 226.9,319.4 227.3,322.8 227.8,325.0 228.2,320.7 228.7,319.2 229.1,323.8 229.5,325.2 230.0,329.7 230.4,328.9 230.9,327.7 231.3,330.8 231.7,331.2 232.2,338.2 232.6,335.0 233.0,336.0 233.5,336.9 233.9,339.9 234.4,345.0 234.8,340.1 235.2,343.5 235.7,342.2 236.1,342.4 236.6,345.9 237.0,345.4 237.4,344.6 237.9,345.9 238.3,348.3 238.8,346.6 239.2,350.1 239.6,345.6 240.1,346.7 240.5,346.4 241.0,342.6 241.4,339.8 241.8,342.6 242.3,339.1 242.7,339.9 243.1,338.7 243.6,338.6 244.0,342.7 244.5,340.4 244.9,344.0 245.3,346.3 245.8,348.3 246.2,346.5 246.7,350.0 247.1,347.5 247.5,348.3 248.0,344.9 248.4,346.7 248.9,344.9 249.3,346.2 249.7,345.3 250.2,344.0 250.6,345.5 251.1,340.0 251.5,339.9 251.9,328.8 252.4,332.6 252.8,332.5 253.2,337.8 253.7,339.5 254.1,345.8 254.6,348.9 255.0,348.6 255.4,351.8 255.9,354.1 256.3,360.6 256.8,356.1 257.2,356.8 257.6,361.1 258.1,360.9 258.5,354.1 259.0,352.9 259.4,349.8 259.8,347.5 260.3,346.5 260.7,353.2 261.2,351.9 261.6,353.8 262.0,355.5 262.5,350.5 262.9,358.6 263.4,357.8 263.8,358.4 264.2,352.8 264.7,353.2 265.1,351.6 265.5,351.5 266.0,347.9 266.4,347.7 266.9,342.3 267.3,347.1 267.7,336.8 268.2,335.7 268.6,336.1 269.1,336.7 269.5,342.5 269.9,333.5 270.4,337.0 270.8,341.9 271.3,339.5 271.7,333.8 272.1,336.9 272.6,336.5 273.0,337.4 273.5,338.4 273.9,337.1 274.3,337.3 274.8,337.7 275.2,338.5 275.6,336.3 276.1,336.8 276.5,334.4 277.0,336.2 277.4,336.3 277.8,335.2 278.3,338.6 278.7,336.5 279.2,333.7 279.6,338.9 280.0,338.0 280.5,332.3 280.9,338.0 281.4,335.5 281.8,337.5 282.2,337.7 282.7,338.2 283.1,337.2 283.6,336.6 284.0,337.8 284.4,338.7 284.9,337.6 285.3,339.4 285.7,338.0 286.2,342.2 286.6,338.3 287.1,337.3 287.5,335.3 287.9,337.3 288.4,337.5 288.8,339.0 289.3,339.5 289.7,339.2 290.1,340.9 290.6,341.6 291.0,344.1 291.5,339.8 291.9,339.3 292.3,342.9 292.8,338.4 293.2,341.3 293.7,343.3 294.1,341.7 294.5,342.0 295.0,339.5 295.4,343.1 295.9,347.3 296.3,341.0 296.7,339.3 297.2,344.1 297.6,349.0 298.0,341.6 298.5,344.8 298.9,344.5 299.4,345.4 299.8,345.5 300.2,346.4 300.7,342.3 301.1,346.3 301.6,349.5 302.0,345.0 302.4,348.8 302.9,346.6 303.3,351.9 303.8,346.2 304.2,346.6 304.6,345.6 305.1,349.6 305.5,345.7 306.0,350.5 306.4,351.9 306.8,349.5 307.3,345.6 307.7,348.2 308.1,345.0 308.6,347.9 309.0,347.5 309.5,350.2 309.9,350.2 310.3,349.7 310.8,348.4 311.2,351.3 311.7,352.2 312.1,346.0 312.5,349.2 313.0,348.0 313.4,353.5 313.9,350.3 314.3,349.6 314.7,349.5 315.2,348.7 315.6,350.7 316.1,350.6 316.5,352.5 316.9,351.4 317.4,349.7 317.8,347.9 318.2,347.5 318.7,350.6 319.1,351.0 319.6,349.3 320.0,353.2 320.4,350.9 320.9,346.3 321.3,351.1 321.8,347.1 322.2,351.8 322.6,353.5 323.1,351.5 323.5,349.9 324.0,354.8 324.4,352.2 324.8,354.7 325.3,351.2 325.7,351.0 326.2,349.1 326.6,351.4 327.0,351.9 327.5,350.3 327.9,348.1 328.4,349.8 328.8,351.1 329.2,351.6 329.7,354.6 330.1,352.3 330.5,351.8 331.0,351.9 331.4,347.6 331.9,353.4 332.3,351.1 332.7,350.3 333.2,350.2 333.6,348.8 334.1,353.1 334.5,349.6 334.9,353.7 335.4,353.1 335.8,355.1 336.3,352.8 336.7,352.8 337.1,348.6 337.6,353.4 338.0,356.6 338.5,352.7 338.9,349.8 339.3,351.9 339.8,352.0 340.2,350.7 340.6,356.9 341.1,353.3 341.5,354.9 342.0,353.8 342.4,354.4 342.8,354.5 343.3,350.7 343.7,351.8 344.2,352.7 344.6,349.8 345.0,345.0 345.5,341.7 345.9,339.9 346.4,336.1 346.8,333.3 347.2,331.8 347.7,330.7 348.1,323.0 348.6,321.3 349.0,326.0 349.4,313.2 349.9,316.0 350.3,310.6 350.8,316.5 351.2,309.8 351.6,310.5 352.1,310.0 352.5,308.4 352.9,303.1 353.4,298.9 353.8,300.4 354.3,303.4 354.7,301.2 355.1,298.5 355.6,298.4 356.0,290.4 356.5,289.4 356.9,289.0 357.3,281.1 357.8,271.8 358.2,273.9 358.7,270.3 359.1,267.0 359.5,270.4 360.0,272.1 360.4,274.8 360.9,276.0 361.3,280.2 361.7,281.7 362.2,285.0 362.6,284.8 363.0,288.7 363.5,292.7 363.9,286.4 364.4,288.6 364.8,287.1 365.2,286.5 365.7,287.0 366.1,295.0 366.6,302.8 367.0,298.1 367.4,301.7 367.9,304.1 368.3,296.6 368.8,298.7 369.2,302.8 369.6,300.8 370.1,303.7 370.5,296.4 371.0,291.7 371.4,292.8 371.8,294.0 372.3,286.9 372.7,291.8 373.1,287.6 373.6,289.3 374.0,281.3 374.5,285.9 374.9,279.4 375.3,276.6 375.8,279.9 376.2,277.3 376.7,277.1 377.1,267.4 377.5,270.3 378.0,273.5 378.4,273.3 378.9,274.3 379.3,277.8 379.7,270.6 380.2,266.8 380.6,260.6 381.1,259.9 381.5,261.5 381.9,249.7 382.4,247.1 382.8,250.3 383.3,258.7 383.7,268.1 384.1,264.3 384.6,267.4 385.0,267.8 385.4,267.2 385.9,268.4 386.3,272.6 386.8,274.5 387.2,287.9 387.6,286.8 388.1,285.3 388.5,292.7 389.0,290.0 389.4,287.0 389.8,297.9 390.3,292.7 390.7,297.6 391.2,303.5 391.6,303.3 392.0,302.4 392.5,308.1 392.9,304.8 393.4,298.1 393.8,298.0 394.2,296.6 394.7,295.2 395.1,287.6 395.5,290.4 396.0,293.9 396.4,292.0 396.9,290.9 397.3,292.0 397.7,297.7 398.2,292.1 398.6,291.7 399.1,293.3 399.5,292.0 399.9,290.9 400.4,293.2 400.8,288.3 401.3,293.6 401.7,285.3 402.1,282.1 402.6,281.1 403.0,280.8 403.5,276.8 403.9,266.4 404.3,282.7 404.8,270.6 405.2,278.7 405.6,270.7 406.1,281.1 406.5,273.8 407.0,272.0 407.4,268.7 407.8,275.9 408.3,265.3 408.7,268.7 409.2,266.2 409.6,272.5 410.0,273.5 410.5,270.8 410.9,266.9 411.4,275.1 411.8,274.8 412.2,278.8 412.7,282.2 413.1,281.5 413.6,283.4 414.0,280.3 414.4,282.5 414.9,281.1 415.3,283.1 415.8,284.6 416.2,282.5 416.6,282.9 417.1,285.1 417.5,287.6 417.9,278.6 418.4,289.0 418.8,285.6 419.3,288.8 419.7,283.0 420.1,281.3 420.6,288.3 421.0,285.3 421.5,292.8 421.9,291.1 422.3,288.9 422.8,288.1 423.2,291.6 423.7,289.6 424.1,286.9 424.5,286.7 425.0,287.0 425.4,283.4 425.9,283.7 426.3,287.0 426.7,284.6 427.2,279.7 427.6,282.9 428.0,282.6 428.5,273.3 428.9,276.5 429.4,270.7 429.8,276.3 430.2,271.6 430.7,274.7 431.1,277.5 431.6,288.3 432.0,287.1 432.4,291.3 432.9,288.5 433.3,291.2 433.8,285.5 434.2,289.3 434.6,288.8 435.1,294.5 435.5,286.7 436.0,287.1 436.4,292.1 436.8,296.9 437.3,293.3 437.7,292.1 438.1,296.5 438.6,297.5 439.0,293.6 439.5,293.1 439.9,302.4 440.3,297.5 440.8,302.2 441.2,296.9 441.7,304.5 442.1,303.6 442.5,301.9 443.0,294.3 443.4,298.7 443.9,296.4 444.3,298.4 444.7,292.4 445.2,298.4 445.6,291.1 446.1,299.6 446.5,289.8 446.9,290.5 447.4,289.7 447.8,288.5 448.3,285.3 448.7,291.2 449.1,285.0 449.6,280.9 450.0,282.4 450.4,284.0 450.9,292.9 451.3,288.4 451.8,292.3 452.2,295.5 452.6,298.6 453.1,296.9 453.5,297.9 454.0,294.5 454.4,300.4 454.8,294.6 455.3,308.4 455.7,302.6 456.2,302.0 456.6,307.8 457.0,304.8 457.5,302.0 457.9,297.2 458.4,301.8 458.8,291.6 459.2,301.5 459.7,297.2 460.1,295.5 460.5,292.7 461.0,295.1 461.4,287.7 461.9,287.6 462.3,284.4 462.7,288.0 463.2,289.1 463.6,282.0 464.1,292.4 464.5,290.7 464.9,290.3 465.4,292.4 465.8,288.5 466.3,293.7 466.7,294.8 467.1,293.6 467.6,296.7 468.0,292.7 468.5,299.3 468.9,297.8 469.3,293.7 469.8,295.9 470.2,296.1 470.6,295.0 471.1,290.9 471.5,290.1 472.0,290.8 472.4,290.9 472.8,281.8 473.3,290.5 473.7,289.1 474.2,284.9 474.6,287.3 475.0,283.8 475.5,286.3 475.9,288.1 476.4,288.9 476.8,282.7 477.2,285.7 477.7,290.1 478.1,288.3 478.6,286.6 479.0,286.5 479.4,285.3 479.9,285.8 480.3,282.1 480.8,284.2 481.2,282.3 481.6,277.9 482.1,286.6 482.5,283.4 482.9,285.8 483.4,281.9 483.8,283.3 484.3,276.2 484.7,278.0 485.1,282.5 485.6,278.5 486.0,273.7 486.5,278.6 486.9,276.5 487.3,279.6 487.8,270.9 488.2,275.7 488.7,271.2 489.1,271.3 489.5,270.1 490.0,267.7 490.4,266.9 490.9,261.6 491.3,257.4 491.7,263.0 492.2,255.1 492.6,255.0 493.0,257.8 493.5,254.9 493.9,258.0 494.4,255.9 494.8,256.3 495.2,256.1 495.7,258.8 496.1,262.6 496.6,262.7 497.0,257.6 497.4,263.4 497.9,257.8 498.3,259.1 498.8,257.0 499.2,245.8 499.6,255.2 500.1,251.2 500.5,249.1 501.0,251.8 501.4,246.1 501.8,246.3 502.3,247.6 502.7,245.2 503.2,248.5 503.6,241.4 504.0,243.2 504.5,242.6 504.9,242.6 505.3,242.0 505.8,243.2 506.2,243.9 506.7,249.0 507.1,246.1 507.5,250.7 508.0,249.3 508.4,244.4 508.9,247.4 509.3,243.6 509.7,242.4 510.2,239.2 510.6,241.1 511.1,240.1 511.5,234.2 511.9,240.3 512.4,244.3 512.8,236.9 513.3,237.8 513.7,241.6 514.1,245.4 514.6,245.1 515.0,242.7 515.4,238.1 515.9,239.8 516.3,238.9 516.8,244.7 517.2,242.3 517.6,239.8 518.1,239.8 518.5,238.8 519.0,238.3 519.4,238.4 519.8,230.3 520.3,230.2 520.7,233.6 521.2,227.9 521.6,234.0 522.0,227.1 522.5,231.9 522.9,230.9 523.4,221.8 523.8,230.1 524.2,230.8 524.7,222.0 525.1,224.6 525.5,228.7 526.0,223.7 526.4,229.2 526.9,227.4 527.3,218.8 527.7,225.8 528.2,226.7 528.6,222.2 529.1,222.3 529.5,226.4 529.9,217.3 530.4,218.3 530.8,225.7 531.3,220.9 531.7,226.1 532.1,216.1 532.6,224.3 533.0,220.7 533.5,221.7 533.9,223.5 534.3,223.1 534.8,218.9 535.2,224.6 535.7,226.8 536.1,229.5 536.5,230.5 537.0,221.8 537.4,224.9 537.8,221.6 538.3,216.7 538.7,217.1 539.2,208.4 539.6,217.4 540.0,207.1 540.5,205.9 540.9,203.5 541.4,205.0 541.8,205.6 542.2,204.6 542.7,208.6 543.1,207.0 543.6,201.2 544.0,198.7 544.4,190.6 544.9,192.3 545.3,194.7 545.8,194.4 546.2,188.2 546.6,191.3 547.1,193.4 547.5,185.3 547.9,188.8 548.4,189.5 548.8,198.9 549.3,203.5 549.7,210.7 550.1,210.3 550.6,220.0 551.0,229.3 551.5,237.2 551.9,232.1 552.3,224.4 552.8,223.8 553.2,211.0 553.7,207.6 554.1,208.6 554.5,208.4 555.0,203.5 555.4,206.4 555.9,201.2 556.3,206.8 556.7,215.0 557.2,221.0 557.6,227.3 558.0,230.6 558.5,231.6 558.9,222.8 559.4,217.3 559.8,208.4 560.2,207.8 560.7,208.0 561.1,208.5 561.6,213.0 562.0,216.1 562.4,202.6 562.9,185.2 563.3,170.5 563.8,187.9 564.2,205.7 564.6,227.9 565.1,250.0 565.5,269.7 566.0,258.3 566.4,242.3 566.8,227.6 567.3,213.9 567.7,199.0 568.2,191.6 568.6,185.5 569.0,181.8 569.5,184.1 569.9,174.7 570.3,169.9 570.8,169.7 571.2,177.1 571.7,178.4 572.1,179.0 572.5,186.9 573.0,184.3 573.4,192.1 573.9,200.1 574.3,201.4 574.7,203.7 575.2,212.7 575.6,211.7 576.1,203.7 576.5,197.5 576.9,196.9 577.4,187.3 577.8,176.2 578.3,167.6 578.7,161.3 579.1,148.5 579.6,148.8 580.0,154.7 580.4,160.8 580.9,163.7 581.3,171.0 581.8,176.3 582.2,180.1 582.6,191.3 583.1,195.1 583.5,196.7 584.0,198.3 584.4,208.5 584.8,206.3 585.3,213.1 585.7,214.5 586.2,213.7 586.6,210.5 587.0,201.0 587.5,201.7 587.9,192.3 588.4,190.6 588.8,188.8 589.2,184.4 589.7,180.2 590.1,176.9 590.5,180.5 591.0,190.6 591.4,192.4 591.9,197.1 592.3,201.9 592.7,208.4 593.2,216.1 593.6,211.8 594.1,200.5 594.5,194.7 594.9,184.3 595.4,182.5 595.8,172.3 596.3,165.2 596.7,165.9 597.1,155.0 597.6,158.4 598.0,151.3 598.5,150.0 598.9,149.3 599.3,152.2 599.8,150.4 600.2,158.4 600.7,156.2 601.1,150.2 601.5,151.1 602.0,155.8 602.4,159.7 602.8,158.8 603.3,154.4 603.7,148.7 604.2,144.9 604.6,139.2 605.0,136.0 605.5,135.4 605.9,137.2 606.4,127.0 606.8,123.2 607.2,125.0 607.7,125.9 608.1,127.9 608.6,125.5 609.0,136.5 609.4,137.2 609.9,133.5 610.3,132.4 610.8,122.2 611.2,127.5 611.6,120.2 612.1,119.5 612.5,120.6 612.9,119.3 613.4,116.9 613.8,117.3 614.3,113.7 614.7,124.6 615.1,120.7 615.6,122.5 616.0,128.1 616.5,132.9 616.9,132.7 617.3,140.1 617.8,140.3 618.2,141.3 618.7,146.3 619.1,148.8 619.5,153.0 620.0,155.7 620.4,161.3 620.9,161.4 621.3,164.7 621.7,169.6 622.2,175.7 622.6,177.8 623.1,178.6 623.5,185.2 623.9,187.3 624.4,190.4 624.8,197.3 625.2,207.6 625.7,220.0 626.1,221.5 626.6,233.5 627.0,246.4 627.4,252.0 627.9,264.8 628.3,265.6 628.8,265.9 629.2,268.2 629.6,273.1 630.1,271.9 630.5,269.3 631.0,268.4 631.4,274.4 631.8,268.1 632.3,270.9 632.7,275.3 633.2,268.8 633.6,271.2 634.0,271.9 634.5,271.4 634.9,274.1 635.3,269.3 635.8,273.1 636.2,274.3 636.7,271.8 637.1,270.6 637.5,276.7 638.0,273.6 638.4,279.5 638.9,274.7 639.3,277.3 639.7,274.6 640.2,272.5 640.6,272.1 641.1,273.4 641.5,272.3 641.9,272.5 642.4,274.0 642.8,275.9 643.3,276.1 643.7,274.1 644.1,272.7 644.6,273.7 645.0,275.9 645.4,274.5 645.9,278.2 646.3,274.4 646.8,279.3 647.2,272.7 647.6,273.8 648.1,278.4 648.5,273.2 649.0,273.1 649.4,276.4 649.8,275.8 650.3,274.2 650.7,279.7 651.2,277.6 651.6,276.5 652.0,274.6 652.5,274.3 652.9,278.2 653.4,276.3 653.8,273.8 654.2,276.9 654.7,275.9 655.1,275.1 655.6,274.3 656.0,278.1 656.4,274.8 656.9,275.8 657.3,278.1 657.7,276.8 658.2,276.2 658.6,275.1 659.1,277.2 659.5,274.5 659.9,272.8 660.4,275.0 660.8,276.4 661.3,275.5 661.7,270.6 662.1,276.0 662.6,277.5 663.0,276.1 663.5,277.9 663.9,277.9 664.3,276.6 664.8,275.9 665.2,276.1 665.7,272.8 666.1,272.4 666.5,275.7 667.0,273.3 667.4,275.7 667.8,282.0 668.3,278.2 668.7,276.4 669.2,278.2 669.6,277.1 670.0,274.5 670.5,278.3 670.9,278.0 671.4,276.8 671.8,275.5 672.2,277.8 672.7,277.0 673.1,275.5 673.6,276.4 674.0,278.5 674.4,278.5 674.9,276.3 675.3,275.1 675.8,273.4 676.2,275.3 676.6,276.7 677.1,277.1 677.5,270.6 677.9,271.1 678.4,278.0 678.8,276.7 679.3,276.6 679.7,274.9 680.1,277.4 680.6,277.4 681.0,272.3 681.5,273.2 681.9,277.1 682.3,275.7 682.8,278.6 683.2,271.0 683.7,277.8 684.1,279.4 684.5,276.7 685.0,277.0 685.4,273.7 685.9,274.4 686.3,276.4 686.7,274.6 687.2,271.8 687.6,274.9 688.1,276.6 688.5,275.3 688.9,273.2 689.4,273.9 689.8,275.7 690.2,275.5 690.7,276.3 691.1,270.7 691.6,272.1 692.0,271.9 692.4,276.2 692.9,277.6 693.3,269.7 693.8,274.5 694.2,273.1 694.6,271.8 695.1,275.9 695.5,271.2 696.0,274.7 696.4,271.4 696.8,276.6 697.3,273.0 697.7,272.9 698.2,270.6 698.6,276.7 699.0,276.5 699.5,275.8 699.9,274.2 700.3,263.5 700.8,267.3 701.2,271.1 701.7,273.4 702.1,272.4 702.5,273.8 703.0,272.3 703.4,273.9 703.9,272.6 704.3,275.4 704.7,273.3 705.2,272.1 705.6,272.7 706.1,271.3 706.5,273.8 706.9,271.9 707.4,274.0 707.8,273.8 708.3,274.5 708.7,274.0 709.1,270.4 709.6,274.7 710.0,271.7 710.4,273.0 710.9,269.4 711.3,274.5 711.8,272.3 712.2,270.9 712.6,269.8 713.1,269.8 713.5,270.6 714.0,270.3 714.4,273.3 714.8,272.3 715.3,276.6 715.7,270.5 716.2,269.7 716.6,271.5 717.0,273.4 717.5,268.1 717.9,271.3 718.4,271.0 718.8,271.7 719.2,268.4 719.7,270.2 720.1,272.1 720.6,273.4 721.0,272.2 721.4,274.9 721.9,271.5 722.3,268.8 722.7,269.0 723.2,271.3 723.6,269.2 724.1,272.5 724.5,269.2 724.9,270.2 725.4,265.3 725.8,271.8 726.3,269.9 726.7,271.5" fill="none" stroke="#ff0000" stroke-width="1.1" stroke-linejoin="round"/><path d="M94.7 297.3V301.4M95.1 298.8V303.3M95.6 293.9V299.5M96.0 298.0V302.2M96.5 299.2V303.7M96.9 298.3V304.3M97.3 299.7V304.5M97.8 299.8V304.7M98.2 297.4V302.1M98.7 294.0V300.3M99.1 300.2V304.4M99.5 299.7V305.5M100.0 299.8V306.3M100.4 302.1V306.6M100.8 294.6V299.8M101.3 298.9V305.2M101.7 299.8V305.6M102.2 297.8V302.9M102.6 300.5V304.6M103.0 301.2V306.4M103.5 299.5V304.5M103.9 301.9V307.9M104.4 299.9V304.7M104.8 299.9V305.1M105.2 297.7V303.5M105.7 303.6V309.8M106.1 302.7V307.6M106.6 301.6V306.7M107.0 299.2V304.9M107.4 301.2V307.8M107.9 301.5V306.0M108.3 300.0V306.7M108.8 302.8V308.8M109.2 301.7V306.7M109.6 299.2V305.1M110.1 298.7V303.6M110.5 298.4V302.6M111.0 303.8V310.0M111.4 299.4V304.5M111.8 300.7V306.2M112.3 297.4V302.8M112.7 302.8V309.3M113.1 299.3V305.4M113.6 302.6V306.6M114.0 298.1V303.8M114.5 300.3V305.6M114.9 300.3V305.6M115.3 301.9V308.2M115.8 301.5V306.7M116.2 301.5V306.8M116.7 301.0V307.5M117.1 303.1V308.3M117.5 301.7V307.0M118.0 303.1V308.5M118.4 300.1V306.4M118.9 299.6V305.5M119.3 305.0V311.1M119.7 302.0V307.1M120.2 301.7V305.8M120.6 303.8V309.7M121.1 304.7V310.2M121.5 302.1V308.2M121.9 304.2V310.4M122.4 304.6V308.9M122.8 302.4V307.0M123.2 302.6V306.8M123.7 298.8V305.1M124.1 299.4V303.7M124.6 304.6V308.8M125.0 303.4V309.5M125.4 301.5V307.1M125.9 303.3V307.5M126.3 298.3V304.2M126.8 301.2V307.2M127.2 302.6V307.9M127.6 300.6V304.8M128.1 300.2V306.1M128.5 299.2V304.3M129.0 302.1V307.8M129.4 298.6V305.4M129.8 301.5V307.8M130.3 303.6V310.1M130.7 300.1V304.5M131.2 300.4V305.3M131.6 302.6V308.0M132.0 305.2V309.2M132.5 298.9V305.7M132.9 303.2V308.0M133.3 302.0V306.7M133.8 303.5V308.4M134.2 304.5V309.3M134.7 299.9V306.3M135.1 304.0V309.6M135.5 303.9V309.3M136.0 298.2V303.4M136.4 310.3V314.4M136.9 306.5V311.4M137.3 304.9V311.3M137.7 303.7V309.9M138.2 301.6V308.0M138.6 303.0V307.8M139.1 307.9V312.5M139.5 301.5V305.7M139.9 307.4V312.9M140.4 305.7V310.7M140.8 305.5V310.8M141.3 306.7V312.1M141.7 307.2V312.8M142.1 303.1V308.2M142.6 298.8V305.0M143.0 306.5V311.0M143.5 302.7V309.3M143.9 304.3V309.9M144.3 306.0V310.1M144.8 302.8V307.7M145.2 303.0V308.4M145.6 305.3V310.4M146.1 302.5V308.1M146.5 305.4V310.3M147.0 302.6V307.4M147.4 308.7V315.0M147.8 303.1V307.9M148.3 303.0V309.0M148.7 301.6V307.8M149.2 303.3V309.0M149.6 303.4V308.7M150.0 298.9V305.6M150.5 298.7V303.9M150.9 302.9V309.3M151.4 301.6V305.7M151.8 305.2V310.4M152.2 302.2V308.0M152.7 301.3V305.5M153.1 303.0V309.4M153.6 300.0V304.2M154.0 304.5V310.2M154.4 306.0V310.5M154.9 303.1V309.7M155.3 304.9V310.5M155.7 303.3V309.5M156.2 306.0V311.4M156.6 305.3V311.2M157.1 305.7V311.6M157.5 301.6V306.5M157.9 305.3V309.9M158.4 304.3V310.6M158.8 307.2V311.6M159.3 310.0V316.6M159.7 310.2V314.8M160.1 306.7V311.0M160.6 305.5V309.8M161.0 306.3V312.5M161.5 306.5V313.1M161.9 307.2V312.3M162.3 309.2V315.0M162.8 308.5V313.2M163.2 312.7V319.3M163.7 310.4V316.3M164.1 304.9V309.4M164.5 310.6V314.7M165.0 305.3V311.3M165.4 312.0V316.2M165.8 311.6V318.0M166.3 313.5V318.3M166.7 310.8V315.5M167.2 310.3V315.9M167.6 314.5V319.3M168.0 312.2V317.7M168.5 305.7V310.1M168.9 311.1V317.7M169.4 305.8V310.7M169.8 307.5V313.9M170.2 308.3V312.7M170.7 308.3V314.5M171.1 309.3V316.0M171.6 309.1V314.2M172.0 309.0V313.1M172.4 307.1V312.2M172.9 308.3V314.1M173.3 304.3V308.9M173.8 309.2V314.7M174.2 312.0V316.3M174.6 308.3V313.6M175.1 307.5V313.6M175.5 309.6V314.8M176.0 311.1V317.0M176.4 313.1V317.4M176.8 307.9V314.2M177.3 315.9V320.2M177.7 316.2V322.8M178.1 309.3V316.1M178.6 308.7V315.3M179.0 309.4V314.9M179.5 311.0V315.8M179.9 315.5V320.5M180.3 307.7V313.8M180.8 309.6V314.9M181.2 309.8V316.4M181.7 305.4V309.6M182.1 307.1V312.5M182.5 307.0V313.4M183.0 306.5V312.2M183.4 303.7V309.2M183.9 306.8V311.0M184.3 311.0V315.4M184.7 308.6V313.3M185.2 311.6V318.1M185.6 308.5V314.9M186.1 302.2V306.9M186.5 296.9V303.5M186.9 282.2V286.3M187.4 273.9V279.5M187.8 279.4V286.1M188.2 280.4V285.4M188.7 281.5V288.2M189.1 293.5V299.4M189.6 284.1V288.2M190.0 293.0V297.9M190.4 292.3V297.6M190.9 295.1V299.8M191.3 292.6V298.7M191.8 303.8V308.3M192.2 300.4V306.6M192.6 296.2V301.0M193.1 291.0V295.2M193.5 278.4V283.9M194.0 279.4V283.7M194.4 280.7V286.3M194.8 275.5V281.7M195.3 273.0V278.7M195.7 276.3V281.6M196.2 274.3V278.4M196.6 282.0V287.5M197.0 282.4V286.7M197.5 282.7V288.5M197.9 283.0V287.3M198.3 291.3V296.9M198.8 290.1V295.1M199.2 290.2V295.3M199.7 295.5V301.4M200.1 307.1V311.5M200.5 292.8V297.3M201.0 289.5V296.1M201.4 284.9V289.8M201.9 280.8V287.1M202.3 284.2V290.6M202.7 283.5V288.8M203.2 287.8V292.3M203.6 290.6V294.9M204.1 286.6V293.0M204.5 290.1V294.5M204.9 289.6V295.0M205.4 292.8V298.3M205.8 297.1V301.4M206.3 295.1V300.4M206.7 301.4V305.8M207.1 304.7V310.2M207.6 307.4V312.9M208.0 299.9V305.0M208.5 301.7V306.3M208.9 305.1V310.2M209.3 305.0V309.6M209.8 307.5V311.8M210.2 304.7V309.4M210.6 306.6V313.0M211.1 309.4V314.8M211.5 308.3V314.8M212.0 304.3V308.3M212.4 312.7V319.3M212.8 307.7V313.0M213.3 305.5V311.7M213.7 308.5V314.1M214.2 310.6V316.6M214.6 314.9V319.6M215.0 310.5V316.6M215.5 314.4V318.9M215.9 316.2V320.9M216.4 316.1V320.2M216.8 313.9V319.0M217.2 308.3V313.7M217.7 312.4V317.2M218.1 307.2V313.7M218.6 311.1V315.3M219.0 309.7V315.3M219.4 308.7V313.4M219.9 298.5V304.1M220.3 297.6V303.8M220.7 298.3V304.3M221.2 296.6V300.7M221.6 300.2V304.9M222.1 305.1V310.7M222.5 299.1V305.9M222.9 305.2V309.3M223.4 312.0V317.7M223.8 313.0V318.9M224.3 302.7V308.9M224.7 312.4V317.4M225.1 306.4V312.7M225.6 320.1V325.4M226.0 315.7V322.3M226.5 313.9V318.0M226.9 316.0V322.7M227.3 320.3V325.4M227.8 322.4V327.6M228.2 318.6V322.8M228.7 316.9V321.6M229.1 320.8V326.9M229.5 322.2V328.1M230.0 327.5V331.9M230.4 326.4V331.4M230.9 325.5V329.9M231.3 328.5V333.0M231.7 328.9V333.5M232.2 335.8V340.7M232.6 331.7V338.4M233.0 332.6V339.4M233.5 333.8V340.0M233.9 337.3V342.6M234.4 342.3V347.7M234.8 337.0V343.2M235.2 340.3V346.8M235.7 339.2V345.3M236.1 339.5V345.3M236.6 343.6V348.2M237.0 342.5V348.2M237.4 341.4V347.8M237.9 342.8V349.0M238.3 346.2V350.4M238.8 343.6V349.6M239.2 347.6V352.6M239.6 343.3V347.8M240.1 343.3V350.0M240.5 343.5V349.4M241.0 339.6V345.6M241.4 337.6V342.0M241.8 339.4V345.8M242.3 335.8V342.4M242.7 336.7V343.2M243.1 335.7V341.8M243.6 335.4V341.8M244.0 339.6V345.9M244.5 337.6V343.3M244.9 341.4V346.6M245.3 343.2V349.5M245.8 345.2V351.4M246.2 343.3V349.7M246.7 347.6V352.4M247.1 344.2V350.9M247.5 345.6V351.1M248.0 341.6V348.2M248.4 344.5V348.9M248.9 341.5V348.2M249.3 343.0V349.3M249.7 342.9V347.6M250.2 340.9V347.2M250.6 343.2V347.8M251.1 337.7V342.3M251.5 337.3V342.6M251.9 326.5V331.1M252.4 329.9V335.3M252.8 329.2V335.7M253.2 334.8V340.7M253.7 336.5V342.5M254.1 343.3V348.4M254.6 345.8V352.0M255.0 345.5V351.7M255.4 348.8V354.7M255.9 350.8V357.4M256.3 357.4V363.7M256.8 353.6V358.7M257.2 354.7V358.9M257.6 358.2V364.0M258.1 357.7V364.0M258.5 351.6V356.6M259.0 350.1V355.8M259.4 346.6V352.9M259.8 344.3V350.6M260.3 344.5V348.5M260.7 350.5V355.9M261.2 349.9V353.9M261.6 351.6V355.9M262.0 352.3V358.6M262.5 347.9V353.1M262.9 355.8V361.5M263.4 355.1V360.4M263.8 355.9V360.8M264.2 350.5V355.1M264.7 350.7V355.7M265.1 348.4V354.8M265.5 348.7V354.4M266.0 345.5V350.3M266.4 345.5V349.8M266.9 339.9V344.7M267.3 344.2V350.1M267.7 334.2V339.4M268.2 332.7V338.6M268.6 333.0V339.3M269.1 334.5V338.9M269.5 339.5V345.4M269.9 331.4V335.6M270.4 333.8V340.1M270.8 339.7V344.2M271.3 337.2V341.9M271.7 330.4V337.1M272.1 334.4V339.4M272.6 334.2V338.8M273.0 334.2V340.7M273.5 335.5V341.3M273.9 333.8V340.3M274.3 334.7V339.8M274.8 335.0V340.4M275.2 335.2V341.8M275.6 333.6V339.1M276.1 333.4V340.2M276.5 332.2V336.7M277.0 333.0V339.3M277.4 334.1V338.6M277.8 332.4V337.9M278.3 336.6V340.6M278.7 334.3V338.8M279.2 330.4V337.0M279.6 336.3V341.5M280.0 334.9V341.1M280.5 330.0V334.7M280.9 335.5V340.5M281.4 333.4V337.7M281.8 334.8V340.3M282.2 334.5V340.9M282.7 335.5V340.9M283.1 334.7V339.7M283.6 333.3V339.9M284.0 334.5V341.0M284.4 335.8V341.6M284.9 335.5V339.7M285.3 336.5V342.2M285.7 335.4V340.7M286.2 338.9V345.6M286.6 335.8V340.8M287.1 334.4V340.2M287.5 332.4V338.2M287.9 334.8V339.8M288.4 334.8V340.3M288.8 336.1V342.0M289.3 336.2V342.8M289.7 336.5V341.9M290.1 338.4V343.4M290.6 338.3V345.0M291.0 342.0V346.2M291.5 336.6V342.9M291.9 336.3V342.3M292.3 340.1V345.6M292.8 335.8V341.1M293.2 338.2V344.3M293.7 340.1V346.6M294.1 338.7V344.7M294.5 338.9V345.0M295.0 337.4V341.5M295.4 340.7V345.6M295.9 345.1V349.5M296.3 337.7V344.3M296.7 336.0V342.5M297.2 341.9V346.3M297.6 346.2V351.8M298.0 338.8V344.4M298.5 342.7V346.9M298.9 341.9V347.0M299.4 342.4V348.4M299.8 342.6V348.4M300.2 344.0V348.8M300.7 339.2V345.3M301.1 343.9V348.7M301.6 346.7V352.2M302.0 342.4V347.6M302.4 345.4V352.2M302.9 343.7V349.5M303.3 348.8V355.0M303.8 343.3V349.2M304.2 344.1V349.1M304.6 342.2V348.9M305.1 346.6V352.5M305.5 342.7V348.7M306.0 348.2V352.9M306.4 349.6V354.1M306.8 346.7V352.3M307.3 342.4V348.7M307.7 345.0V351.3M308.1 342.5V347.5M308.6 345.7V350.1M309.0 344.8V350.2M309.5 346.9V353.4M309.9 348.0V352.4M310.3 346.7V352.7M310.8 346.2V350.7M311.2 348.9V353.8M311.7 350.1V354.2M312.1 343.6V348.5M312.5 346.7V351.8M313.0 344.6V351.3M313.4 350.2V356.9M313.9 348.0V352.5M314.3 347.1V352.0M314.7 346.2V352.8M315.2 346.4V351.0M315.6 348.3V353.2M316.1 348.0V353.2M316.5 350.3V354.6M316.9 349.0V353.8M317.4 347.1V352.2M317.8 345.3V350.4M318.2 344.2V350.9M318.7 348.2V353.0M319.1 348.7V353.3M319.6 346.0V352.5M320.0 350.6V355.8M320.4 347.7V354.0M320.9 343.4V349.2M321.3 348.0V354.1M321.8 344.6V349.5M322.2 349.6V354.0M322.6 350.4V356.5M323.1 348.8V354.1M323.5 347.1V352.7M324.0 351.9V357.7M324.4 349.1V355.2M324.8 352.3V357.0M325.3 348.7V353.7M325.7 347.8V354.3M326.2 346.4V351.9M326.6 349.0V353.8M327.0 349.1V354.8M327.5 347.9V352.6M327.9 345.0V351.2M328.4 347.7V351.8M328.8 347.9V354.2M329.2 348.8V354.4M329.7 352.1V357.1M330.1 348.9V355.6M330.5 349.5V354.2M331.0 349.6V354.3M331.4 345.5V349.7M331.9 350.7V356.2M332.3 348.0V354.1M332.7 347.3V353.2M333.2 347.6V352.8M333.6 345.7V351.9M334.1 350.9V355.3M334.5 347.2V352.1M334.9 350.8V356.6M335.4 349.8V356.5M335.8 352.2V358.0M336.3 349.8V355.7M336.7 349.8V355.9M337.1 346.0V351.1M337.6 350.1V356.7M338.0 353.6V359.6M338.5 350.2V355.2M338.9 347.2V352.3M339.3 348.8V355.0M339.8 349.6V354.5M340.2 348.4V352.9M340.6 353.7V360.1M341.1 350.6V356.0M341.5 352.2V357.7M342.0 350.9V356.8M342.4 351.1V357.6M342.8 352.3V356.7M343.3 348.2V353.1M343.7 349.7V353.9M344.2 350.2V355.3M344.6 347.1V352.5M345.0 341.8V348.2M345.5 338.8V344.6M345.9 337.1V342.7M346.4 333.6V338.7M346.8 330.5V336.1M347.2 329.4V334.1M347.7 327.5V333.9M348.1 319.9V326.1M348.6 318.1V324.5M349.0 323.8V328.2M349.4 310.3V316.2M349.9 313.0V319.1M350.3 307.9V313.3M350.8 313.2V319.7M351.2 306.6V313.1M351.6 307.4V313.5M352.1 306.9V313.2M352.5 305.5V311.4M352.9 299.9V306.4M353.4 296.8V301.1M353.8 297.4V303.4M354.3 300.4V306.4M354.7 298.3V304.1M355.1 296.1V300.9M355.6 296.3V300.5M356.0 287.5V293.2M356.5 286.2V292.5M356.9 286.6V291.3M357.3 278.8V283.4M357.8 269.4V274.1M358.2 271.8V276.1M358.7 267.4V273.3M359.1 263.6V270.3M359.5 267.3V273.5M360.0 269.6V274.6M360.4 271.8V277.8M360.9 273.9V278.1M361.3 277.0V283.4M361.7 279.2V284.2M362.2 283.0V287.0M362.6 281.9V287.6M363.0 286.5V290.9M363.5 290.3V295.0M363.9 284.3V288.5M364.4 285.9V291.2M364.8 284.3V289.9M365.2 283.4V289.6M365.7 285.0V289.1M366.1 291.8V298.1M366.6 300.6V304.9M367.0 295.8V300.4M367.4 298.9V304.6M367.9 301.6V306.6M368.3 294.1V299.1M368.8 296.0V301.5M369.2 300.5V305.1M369.6 297.7V303.9M370.1 301.4V306.0M370.5 293.2V299.5M371.0 288.6V294.8M371.4 290.1V295.6M371.8 291.9V296.0M372.3 283.8V289.9M372.7 289.7V293.8M373.1 284.8V290.3M373.6 286.7V291.9M374.0 279.2V283.3M374.5 283.1V288.8M374.9 276.4V282.5M375.3 273.7V279.4M375.8 277.3V282.4M376.2 274.6V280.0M376.7 274.3V280.0M377.1 265.0V269.7M377.5 267.1V273.5M378.0 270.1V276.9M378.4 270.2V276.5M378.9 270.9V277.6M379.3 275.3V280.2M379.7 267.2V274.0M380.2 264.7V268.9M380.6 257.9V263.2M381.1 257.7V262.1M381.5 258.8V264.1M381.9 246.8V252.7M382.4 244.1V250.1M382.8 247.7V252.9M383.3 256.3V261.2M383.7 265.8V270.3M384.1 261.7V266.8M384.6 265.0V269.8M385.0 265.5V270.1M385.4 264.2V270.3M385.9 265.7V271.1M386.3 270.0V275.2M386.8 272.2V276.7M387.2 284.9V290.9M387.6 284.5V289.0M388.1 282.9V287.7M388.5 289.9V295.5M389.0 287.1V293.0M389.4 283.7V290.4M389.8 294.9V300.9M390.3 289.4V296.0M390.7 294.3V300.9M391.2 300.5V306.6M391.6 300.3V306.3M392.0 300.4V304.5M392.5 305.8V310.4M392.9 302.8V306.9M393.4 294.9V301.3M393.8 295.0V301.0M394.2 293.7V299.5M394.7 292.9V297.6M395.1 285.1V290.1M395.5 288.1V292.6M396.0 291.0V296.8M396.4 288.6V295.4M396.9 288.5V293.4M397.3 289.9V294.1M397.7 295.5V299.9M398.2 289.6V294.6M398.6 288.5V295.0M399.1 290.2V296.4M399.5 289.4V294.7M399.9 288.8V293.1M400.4 291.1V295.4M400.8 286.1V290.5M401.3 290.5V296.7M401.7 282.7V288.0M402.1 278.7V285.4M402.6 277.9V284.4M403.0 277.7V283.9M403.5 274.1V279.4M403.9 263.3V269.6M404.3 280.6V284.9M404.8 268.5V272.8M405.2 275.9V281.4M405.6 268.0V273.4M406.1 278.8V283.4M406.5 271.5V276.2M407.0 270.0V274.0M407.4 265.4V271.9M407.8 272.9V278.9M408.3 262.0V268.6M408.7 265.3V272.0M409.2 263.6V268.8M409.6 269.5V275.6M410.0 271.0V276.0M410.5 267.7V274.0M410.9 263.7V270.1M411.4 272.9V277.3M411.8 272.7V276.8M412.2 276.5V281.1M412.7 279.4V285.1M413.1 278.9V284.0M413.6 281.3V285.4M414.0 277.1V283.5M414.4 279.4V285.6M414.9 278.5V283.8M415.3 281.0V285.1M415.8 281.3V287.8M416.2 279.8V285.2M416.6 280.8V285.0M417.1 282.6V287.5M417.5 284.7V290.4M417.9 275.3V281.8M418.4 286.4V291.7M418.8 282.7V288.5M419.3 286.5V291.0M419.7 280.7V285.4M420.1 278.1V284.6M420.6 285.7V290.8M421.0 283.2V287.5M421.5 290.0V295.6M421.9 288.9V293.3M422.3 286.6V291.2M422.8 285.5V290.7M423.2 288.8V294.4M423.7 286.8V292.5M424.1 283.9V289.9M424.5 284.1V289.3M425.0 284.9V289.1M425.4 280.4V286.4M425.9 281.6V285.7M426.3 284.3V289.6M426.7 282.0V287.1M427.2 276.8V282.6M427.6 279.9V285.9M428.0 280.3V284.9M428.5 270.4V276.2M428.9 273.6V279.5M429.4 268.0V273.3M429.8 274.1V278.5M430.2 268.3V274.9M430.7 271.8V277.5M431.1 275.5V279.6M431.6 286.0V290.7M432.0 283.7V290.5M432.4 289.0V293.7M432.9 285.9V291.0M433.3 288.1V294.3M433.8 282.3V288.6M434.2 286.4V292.2M434.6 285.8V291.9M435.1 292.4V296.5M435.5 284.6V288.9M436.0 283.7V290.5M436.4 289.0V295.3M436.8 294.9V299.0M437.3 291.2V295.4M437.7 289.8V294.4M438.1 293.2V299.8M438.6 295.2V299.8M439.0 290.7V296.6M439.5 289.8V296.4M439.9 299.5V305.3M440.3 294.2V300.8M440.8 299.8V304.5M441.2 294.6V299.1M441.7 302.5V306.5M442.1 300.5V306.6M442.5 299.8V304.1M443.0 291.0V297.7M443.4 295.7V301.7M443.9 294.1V298.6M444.3 295.3V301.6M444.7 290.2V294.6M445.2 295.7V301.1M445.6 288.9V293.2M446.1 296.5V302.7M446.5 286.6V293.1M446.9 287.2V293.8M447.4 287.7V291.7M447.8 285.3V291.7M448.3 282.5V288.1M448.7 288.0V294.3M449.1 282.3V287.7M449.6 278.0V283.7M450.0 279.6V285.3M450.4 280.9V287.1M450.9 290.8V295.0M451.3 286.3V290.5M451.8 289.5V295.0M452.2 293.1V297.9M452.6 296.0V301.1M453.1 294.9V298.9M453.5 294.9V301.0M454.0 292.5V296.6M454.4 297.3V303.6M454.8 291.4V297.7M455.3 305.8V311.1M455.7 300.5V304.8M456.2 299.0V304.9M456.6 305.5V310.0M457.0 302.2V307.4M457.5 299.8V304.2M457.9 293.8V300.5M458.4 299.0V304.5M458.8 289.1V294.0M459.2 299.4V303.6M459.7 294.2V300.2M460.1 292.4V298.7M460.5 289.5V295.9M461.0 293.0V297.2M461.4 285.2V290.2M461.9 285.2V290.0M462.3 281.3V287.5M462.7 285.8V290.2M463.2 286.2V291.9M463.6 278.6V285.4M464.1 289.4V295.5M464.5 288.7V292.7M464.9 288.2V292.4M465.4 290.2V294.5M465.8 285.5V291.5M466.3 290.8V296.5M466.7 292.0V297.5M467.1 291.0V296.3M467.6 294.1V299.3M468.0 289.8V295.5M468.5 296.4V302.3M468.9 294.6V301.1M469.3 290.6V296.7M469.8 292.8V299.0M470.2 292.8V299.4M470.6 291.8V298.1M471.1 287.9V293.9M471.5 288.1V292.2M472.0 287.8V293.7M472.4 287.7V294.1M472.8 279.1V284.4M473.3 287.3V293.8M473.7 286.8V291.3M474.2 281.6V288.2M474.6 284.7V289.9M475.0 280.8V286.8M475.5 283.9V288.6M475.9 285.7V290.5M476.4 286.5V291.4M476.8 280.2V285.1M477.2 283.6V287.8M477.7 287.4V292.7M478.1 284.9V291.7M478.6 283.7V289.5M479.0 283.2V289.8M479.4 282.2V288.3M479.9 282.6V288.9M480.3 278.7V285.5M480.8 281.2V287.3M481.2 279.9V284.7M481.6 275.5V280.2M482.1 284.0V289.2M482.5 281.4V285.5M482.9 283.5V288.1M483.4 278.7V285.2M483.8 280.0V286.6M484.3 273.7V278.6M484.7 274.9V281.1M485.1 279.5V285.6M485.6 275.2V281.7M486.0 270.6V276.9M486.5 275.8V281.3M486.9 274.4V278.7M487.3 276.5V282.8M487.8 268.5V273.4M488.2 272.9V278.6M488.7 268.7V273.8M489.1 268.5V274.0M489.5 266.7V273.4M490.0 265.5V269.9M490.4 264.2V269.6M490.9 258.7V264.5M491.3 254.6V260.1M491.7 259.6V266.3M492.2 252.5V257.6M492.6 251.7V258.3M493.0 254.8V260.7M493.5 251.5V258.3M493.9 255.8V260.1M494.4 253.6V258.2M494.8 253.9V258.7M495.2 252.9V259.4M495.7 256.8V260.8M496.1 260.3V265.0M496.6 259.7V265.7M497.0 254.2V260.9M497.4 261.2V265.7M497.9 255.2V260.4M498.3 256.2V262.1M498.8 254.0V260.0M499.2 242.8V248.9M499.6 252.1V258.2M500.1 248.9V253.6M500.5 246.7V251.4M501.0 249.7V253.8M501.4 243.2V249.1M501.8 244.0V248.6M502.3 245.2V250.0M502.7 241.8V248.5M503.2 245.6V251.4M503.6 238.6V244.2M504.0 240.3V246.1M504.5 239.7V245.4M504.9 239.6V245.6M505.3 239.6V244.4M505.8 241.1V245.3M506.2 241.8V246.0M506.7 247.0V251.0M507.1 243.6V248.6M507.5 248.5V252.9M508.0 247.1V251.4M508.4 241.7V247.1M508.9 244.0V250.8M509.3 240.7V246.6M509.7 240.0V244.8M510.2 236.2V242.3M510.6 238.8V243.3M511.1 237.9V242.2M511.5 231.8V236.6M511.9 237.7V242.9M512.4 241.4V247.3M512.8 234.2V239.5M513.3 234.8V240.8M513.7 239.5V243.7M514.1 242.1V248.7M514.6 242.6V247.6M515.0 239.6V245.9M515.4 236.1V240.2M515.9 236.6V243.0M516.3 236.5V241.2M516.8 241.5V247.9M517.2 239.2V245.4M517.6 236.9V242.8M518.1 237.4V242.1M518.5 236.7V240.8M519.0 236.0V240.6M519.4 235.2V241.7M519.8 228.1V232.5M520.3 227.3V233.1M520.7 230.8V236.5M521.2 224.9V230.8M521.6 231.8V236.3M522.0 224.9V229.3M522.5 229.8V234.1M522.9 227.5V234.3M523.4 219.3V224.3M523.8 227.1V233.0M524.2 228.0V233.6M524.7 219.7V224.3M525.1 222.5V226.7M525.5 226.7V230.7M526.0 220.5V226.9M526.4 227.0V231.4M526.9 224.0V230.7M527.3 216.3V221.3M527.7 222.8V228.8M528.2 224.5V228.9M528.6 219.1V225.3M529.1 219.9V224.6M529.5 223.9V228.9M529.9 214.6V220.0M530.4 216.1V220.4M530.8 223.4V228.1M531.3 217.8V224.1M531.7 223.7V228.5M532.1 213.6V218.6M532.6 221.2V227.3M533.0 218.4V223.0M533.5 219.5V224.0M533.9 221.2V225.8M534.3 220.6V225.6M534.8 216.4V221.4M535.2 221.7V227.5M535.7 224.1V229.4M536.1 226.3V232.8M536.5 228.4V232.6M537.0 218.9V224.8M537.4 221.7V228.0M537.8 219.3V223.9M538.3 214.6V218.7M538.7 214.5V219.7M539.2 206.2V210.5M539.6 214.8V220.1M540.0 204.1V210.1M540.5 203.8V208.1M540.9 201.3V205.7M541.4 202.3V207.6M541.8 203.3V207.8M542.2 202.3V206.9M542.7 206.0V211.2M543.1 204.8V209.2M543.6 199.1V203.3M544.0 196.2V201.2M544.4 187.9V193.2M544.9 189.0V195.6M545.3 192.0V197.5M545.8 192.3V196.5M546.2 185.9V190.5M546.6 188.3V194.3M547.1 190.6V196.2M547.5 182.1V188.6M547.9 185.4V192.1M548.4 186.3V192.7M548.8 196.7V201.0M549.3 200.2V206.8M549.7 207.9V213.4M550.1 208.0V212.6M550.6 217.8V222.3M551.0 226.1V232.5M551.5 234.9V239.5M551.9 230.0V234.2M552.3 222.0V226.8M552.8 220.5V227.1M553.2 208.3V213.6M553.7 204.6V210.6M554.1 206.5V210.7M554.5 205.8V211.1M555.0 201.0V205.9M555.4 204.1V208.7M555.9 198.2V204.1M556.3 204.3V209.3M556.7 212.8V217.1M557.2 217.6V224.4M557.6 224.7V230.0M558.0 228.3V232.8M558.5 229.6V233.7M558.9 219.9V225.7M559.4 214.5V220.0M559.8 206.4V210.5M560.2 205.2V210.5M560.7 205.0V211.0M561.1 205.8V211.3M561.6 210.7V215.4M562.0 213.4V218.8M562.4 199.8V205.5M562.9 182.3V188.1M563.3 168.3V172.7M563.8 184.8V191.0M564.2 202.4V209.1M564.6 224.9V230.9M565.1 246.8V253.2M565.5 267.2V272.2M566.0 255.0V261.6M566.4 240.1V244.6M566.8 225.2V229.9M567.3 211.1V216.7M567.7 195.8V202.3M568.2 189.5V193.7M568.6 183.2V187.8M569.0 179.8V183.9M569.5 181.4V186.7M569.9 172.5V176.9M570.3 167.6V172.1M570.8 166.6V172.7M571.2 174.3V179.9M571.7 175.1V181.7M572.1 176.5V181.6M572.5 183.9V189.8M573.0 182.3V186.3M573.4 188.8V195.4M573.9 197.8V202.4M574.3 198.8V204.1M574.7 201.0V206.4M575.2 209.3V216.0M575.6 209.0V214.4M576.1 200.4V207.1M576.5 194.7V200.4M576.9 194.6V199.2M577.4 184.2V190.5M577.8 173.9V178.5M578.3 164.2V171.0M578.7 158.7V163.9M579.1 146.1V150.8M579.6 145.4V152.1M580.0 152.3V157.2M580.4 158.2V163.3M580.9 161.2V166.2M581.3 168.0V173.9M581.8 174.3V178.4M582.2 177.6V182.7M582.6 189.1V193.5M583.1 192.0V198.3M583.5 194.7V198.7M584.0 195.4V201.1M584.4 206.2V210.9M584.8 203.7V208.9M585.3 210.3V215.9M585.7 211.5V217.5M586.2 211.5V215.9M586.6 208.1V212.8M587.0 198.8V203.2M587.5 198.3V205.0M587.9 190.1V194.5M588.4 188.4V192.8M588.8 186.1V191.6M589.2 181.5V187.2M589.7 176.9V183.4M590.1 174.9V179.0M590.5 178.2V182.9M591.0 188.3V192.8M591.4 189.5V195.2M591.9 194.5V199.8M592.3 199.3V204.5M592.7 205.1V211.6M593.2 213.2V219.0M593.6 208.6V215.0M594.1 197.1V203.8M594.5 192.3V197.0M594.9 181.0V187.7M595.4 179.9V185.1M595.8 170.2V174.4M596.3 161.9V168.5M596.7 163.8V168.1M597.1 153.0V157.0M597.6 156.0V160.8M598.0 148.9V153.7M598.5 146.6V153.3M598.9 146.1V152.6M599.3 149.6V154.8M599.8 147.6V153.1M600.2 155.2V161.6M600.7 153.1V159.3M601.1 147.3V153.1M601.5 148.4V153.8M602.0 153.6V157.9M602.4 157.4V162.0M602.8 155.8V161.7M603.3 151.6V157.2M603.7 145.6V151.9M604.2 141.7V148.2M604.6 135.9V142.5M605.0 133.7V138.3M605.5 133.3V137.5M605.9 134.0V140.5M606.4 124.2V129.8M606.8 120.9V125.4M607.2 122.0V128.0M607.7 123.6V128.3M608.1 125.6V130.2M608.6 122.9V128.0M609.0 133.8V139.3M609.4 134.2V140.1M609.9 131.4V135.6M610.3 129.4V135.5M610.8 119.4V125.1M611.2 124.8V130.2M611.6 117.3V123.2M612.1 116.4V122.6M612.5 118.6V122.7M612.9 116.7V122.0M613.4 114.0V119.9M613.8 114.3V120.3M614.3 110.8V116.6M614.7 122.4V126.9M615.1 117.3V124.0M615.6 119.4V125.6M616.0 125.8V130.4M616.5 130.3V135.5M616.9 129.3V136.0M617.3 137.8V142.4M617.8 137.7V142.8M618.2 138.0V144.7M618.7 143.0V149.6M619.1 146.5V151.1M619.5 150.0V156.0M620.0 153.2V158.2M620.4 158.4V164.2M620.9 158.3V164.4M621.3 162.5V166.9M621.7 167.3V171.9M622.2 173.4V178.0M622.6 175.4V180.1M623.1 176.5V180.6M623.5 183.0V187.4M623.9 184.7V189.8M624.4 187.8V192.9M624.8 195.1V199.4M625.2 204.7V210.4M625.7 216.7V223.3M626.1 218.7V224.3M626.6 231.0V236.0M627.0 243.4V249.3M627.4 249.4V254.6M627.9 262.5V267.0M628.3 263.0V268.3M628.8 263.8V267.9M629.2 265.3V271.2M629.6 270.9V275.3M630.1 269.3V274.4M630.5 266.0V272.7M631.0 265.3V271.5M631.4 271.3V277.6M631.8 265.2V271.0M632.3 268.0V273.8M632.7 272.4V278.3M633.2 265.4V272.1M633.6 268.9V273.5M634.0 268.8V275.0M634.5 269.0V273.9M634.9 271.7V276.4M635.3 266.1V272.4M635.8 270.2V275.9M636.2 271.1V277.5M636.7 268.6V275.0M637.1 267.7V273.4M637.5 274.4V278.9M638.0 271.6V275.7M638.4 276.7V282.2M638.9 271.7V277.7M639.3 274.9V279.6M639.7 272.5V276.7M640.2 270.5V274.5M640.6 269.9V274.4M641.1 270.4V276.4M641.5 270.3V274.3M641.9 270.1V274.8M642.4 271.6V276.4M642.8 273.0V278.9M643.3 272.7V279.5M643.7 272.1V276.1M644.1 270.6V274.9M644.6 270.4V277.0M645.0 272.6V279.3M645.4 272.3V276.7M645.9 275.7V280.6M646.3 271.7V277.2M646.8 276.8V281.7M647.2 270.1V275.3M647.6 271.2V276.5M648.1 276.0V280.7M648.5 271.1V275.2M649.0 271.0V275.3M649.4 274.2V278.6M649.8 273.7V277.9M650.3 271.4V277.1M650.7 276.7V282.7M651.2 275.3V280.0M651.6 273.4V279.6M652.0 271.6V277.6M652.5 271.8V276.8M652.9 275.5V280.9M653.4 274.0V278.5M653.8 270.5V277.1M654.2 274.2V279.7M654.7 273.9V278.0M655.1 272.9V277.3M655.6 271.4V277.3M656.0 275.5V280.6M656.4 271.8V277.8M656.9 273.5V278.1M657.3 275.0V281.2M657.7 273.7V279.9M658.2 274.1V278.3M658.6 272.3V277.9M659.1 274.9V279.4M659.5 271.5V277.5M659.9 269.7V276.0M660.4 271.9V278.1M660.8 274.1V278.7M661.3 273.4V277.6M661.7 267.7V273.5M662.1 273.2V278.8M662.6 275.3V279.7M663.0 273.9V278.4M663.5 275.1V280.7M663.9 275.8V280.1M664.3 273.7V279.5M664.8 273.5V278.2M665.2 273.8V278.5M665.7 270.2V275.4M666.1 269.7V275.2M666.5 272.7V278.7M667.0 271.3V275.3M667.4 272.7V278.7M667.8 279.7V284.4M668.3 275.8V280.6M668.7 273.5V279.3M669.2 275.3V281.2M669.6 274.2V280.0M670.0 271.3V277.8M670.5 276.0V280.6M670.9 275.6V280.4M671.4 273.9V279.7M671.8 273.1V277.9M672.2 275.6V280.0M672.7 274.7V279.3M673.1 272.4V278.5M673.6 273.3V279.6M674.0 275.5V281.5M674.4 275.1V281.8M674.9 273.2V279.4M675.3 272.6V277.5M675.8 270.9V275.8M676.2 272.3V278.3M676.6 274.6V278.8M677.1 274.2V279.9M677.5 268.5V272.7M677.9 269.0V273.2M678.4 275.3V280.8M678.8 274.5V278.9M679.3 273.3V279.9M679.7 271.6V278.1M680.1 274.8V280.1M680.6 275.1V279.6M681.0 270.2V274.5M681.5 270.5V275.9M681.9 274.4V279.8M682.3 273.2V278.2M682.8 275.6V281.6M683.2 268.3V273.8M683.7 274.7V280.9M684.1 277.2V281.5M684.5 274.6V278.8M685.0 274.4V279.5M685.4 271.0V276.4M685.9 272.0V276.7M686.3 273.4V279.3M686.7 272.3V276.9M687.2 269.4V274.3M687.6 272.2V277.5M688.1 273.6V279.6M688.5 272.2V278.3M688.9 270.7V275.7M689.4 271.2V276.5M689.8 272.4V279.0M690.2 272.2V278.8M690.7 273.5V279.2M691.1 268.5V272.8M691.6 269.5V274.8M692.0 269.0V274.8M692.4 273.8V278.6M692.9 275.5V279.6M693.3 266.4V273.1M693.8 271.2V277.7M694.2 270.9V275.3M694.6 269.1V274.4M695.1 273.0V278.8M695.5 268.8V273.6M696.0 272.6V276.8M696.4 268.3V274.4M696.8 273.5V279.6M697.3 270.4V275.6M697.7 270.8V275.1M698.2 268.1V273.2M698.6 274.6V278.9M699.0 273.1V279.8M699.5 273.8V277.9M699.9 271.8V276.6M700.3 260.4V266.6M700.8 265.1V269.5M701.2 269.0V273.3M701.7 271.3V275.5M702.1 270.2V274.6M702.5 271.1V276.6M703.0 269.1V275.4M703.4 271.6V276.1M703.9 270.3V274.8M704.3 272.3V278.5M704.7 270.7V275.9M705.2 269.6V274.5M705.6 270.6V274.9M706.1 269.0V273.7M706.5 270.4V277.2M706.9 269.8V274.1M707.4 271.6V276.3M707.8 270.8V276.9M708.3 271.3V277.7M708.7 270.8V277.3M709.1 267.8V273.1M709.6 271.3V278.0M710.0 268.8V274.5M710.4 270.6V275.4M710.9 266.8V272.1M711.3 271.5V277.5M711.8 269.3V275.3M712.2 268.7V273.1M712.6 267.6V272.1M713.1 266.4V273.1M713.5 268.4V272.7M714.0 267.1V273.4M714.4 270.9V275.8M714.8 269.9V274.6M715.3 274.3V279.0M715.7 267.9V273.2M716.2 266.3V273.1M716.6 269.3V273.7M717.0 270.2V276.6M717.5 265.6V270.5M717.9 269.1V273.6M718.4 267.9V274.0M718.8 269.2V274.2M719.2 266.2V270.7M719.7 267.6V272.8M720.1 268.9V275.2M720.6 270.2V276.6M721.0 269.4V275.0M721.4 272.9V276.9M721.9 268.5V274.6M722.3 265.9V271.6M722.7 265.7V272.2M723.2 268.0V274.7M723.6 266.8V271.7M724.1 269.4V275.7M724.5 266.0V272.3M724.9 267.9V272.6M725.4 262.8V267.8M725.8 269.2V274.3M726.3 267.4V272.4M726.7 268.9V274.0" stroke="#ff0000" stroke-width="1" fill="none"/><path d="M94.7 299.4h.01M95.1 301.0h.01M95.6 296.7h.01M96.0 300.1h.01M96.5 301.5h.01M96.9 301.3h.01M97.3 302.1h.01M97.8 302.2h.01M98.2 299.7h.01M98.7 297.2h.01M99.1 302.3h.01M99.5 302.6h.01M100.0 303.0h.01M100.4 304.4h.01M100.8 297.2h.01M101.3 302.1h.01M101.7 302.7h.01M102.2 300.3h.01M102.6 302.5h.01M103.0 303.8h.01M103.5 302.0h.01M103.9 304.9h.01M104.4 302.3h.01M104.8 302.5h.01M105.2 300.6h.01M105.7 306.7h.01M106.1 305.1h.01M106.6 304.1h.01M107.0 302.1h.01M107.4 304.5h.01M107.9 303.8h.01M108.3 303.4h.01M108.8 305.8h.01M109.2 304.2h.01M109.6 302.1h.01M110.1 301.1h.01M110.5 300.5h.01M111.0 306.9h.01M111.4 301.9h.01M111.8 303.4h.01M112.3 300.1h.01M112.7 306.1h.01M113.1 302.4h.01M113.6 304.6h.01M114.0 301.0h.01M114.5 303.0h.01M114.9 303.0h.01M115.3 305.0h.01M115.8 304.1h.01M116.2 304.1h.01M116.7 304.3h.01M117.1 305.7h.01M117.5 304.4h.01M118.0 305.8h.01M118.4 303.3h.01M118.9 302.6h.01M119.3 308.0h.01M119.7 304.6h.01M120.2 303.8h.01M120.6 306.8h.01M121.1 307.4h.01M121.5 305.2h.01M121.9 307.3h.01M122.4 306.7h.01M122.8 304.7h.01M123.2 304.7h.01M123.7 302.0h.01M124.1 301.5h.01M124.6 306.7h.01M125.0 306.5h.01M125.4 304.3h.01M125.9 305.4h.01M126.3 301.2h.01M126.8 304.2h.01M127.2 305.3h.01M127.6 302.7h.01M128.1 303.1h.01M128.5 301.7h.01M129.0 304.9h.01M129.4 302.0h.01M129.8 304.6h.01M130.3 306.9h.01M130.7 302.3h.01M131.2 302.9h.01M131.6 305.3h.01M132.0 307.2h.01M132.5 302.3h.01M132.9 305.6h.01M133.3 304.4h.01M133.8 305.9h.01M134.2 306.9h.01M134.7 303.1h.01M135.1 306.8h.01M135.5 306.6h.01M136.0 300.8h.01M136.4 312.3h.01M136.9 309.0h.01M137.3 308.1h.01M137.7 306.8h.01M138.2 304.8h.01M138.6 305.4h.01M139.1 310.2h.01M139.5 303.6h.01M139.9 310.2h.01M140.4 308.2h.01M140.8 308.1h.01M141.3 309.4h.01M141.7 310.0h.01M142.1 305.7h.01M142.6 301.9h.01M143.0 308.8h.01M143.5 306.0h.01M143.9 307.1h.01M144.3 308.0h.01M144.8 305.3h.01M145.2 305.7h.01M145.6 307.9h.01M146.1 305.3h.01M146.5 307.8h.01M147.0 305.0h.01M147.4 311.8h.01M147.8 305.5h.01M148.3 306.0h.01M148.7 304.7h.01M149.2 306.2h.01M149.6 306.0h.01M150.0 302.2h.01M150.5 301.3h.01M150.9 306.1h.01M151.4 303.7h.01M151.8 307.8h.01M152.2 305.1h.01M152.7 303.4h.01M153.1 306.2h.01M153.6 302.1h.01M154.0 307.3h.01M154.4 308.2h.01M154.9 306.4h.01M155.3 307.7h.01M155.7 306.4h.01M156.2 308.7h.01M156.6 308.3h.01M157.1 308.7h.01M157.5 304.0h.01M157.9 307.6h.01M158.4 307.5h.01M158.8 309.4h.01M159.3 313.3h.01M159.7 312.5h.01M160.1 308.9h.01M160.6 307.6h.01M161.0 309.4h.01M161.5 309.8h.01M161.9 309.8h.01M162.3 312.1h.01M162.8 310.9h.01M163.2 316.0h.01M163.7 313.4h.01M164.1 307.1h.01M164.5 312.6h.01M165.0 308.3h.01M165.4 314.1h.01M165.8 314.8h.01M166.3 315.9h.01M166.7 313.1h.01M167.2 313.1h.01M167.6 316.9h.01M168.0 314.9h.01M168.5 307.9h.01M168.9 314.4h.01M169.4 308.2h.01M169.8 310.7h.01M170.2 310.5h.01M170.7 311.4h.01M171.1 312.7h.01M171.6 311.6h.01M172.0 311.1h.01M172.4 309.6h.01M172.9 311.2h.01M173.3 306.6h.01M173.8 311.9h.01M174.2 314.2h.01M174.6 311.0h.01M175.1 310.5h.01M175.5 312.2h.01M176.0 314.1h.01M176.4 315.2h.01M176.8 311.0h.01M177.3 318.0h.01M177.7 319.5h.01M178.1 312.7h.01M178.6 312.0h.01M179.0 312.2h.01M179.5 313.4h.01M179.9 318.0h.01M180.3 310.8h.01M180.8 312.3h.01M181.2 313.1h.01M181.7 307.5h.01M182.1 309.8h.01M182.5 310.2h.01M183.0 309.4h.01M183.4 306.4h.01M183.9 308.9h.01M184.3 313.2h.01M184.7 310.9h.01M185.2 314.8h.01M185.6 311.7h.01M186.1 304.5h.01M186.5 300.2h.01M186.9 284.2h.01M187.4 276.7h.01M187.8 282.7h.01M188.2 282.9h.01M188.7 284.9h.01M189.1 296.5h.01M189.6 286.2h.01M190.0 295.5h.01M190.4 295.0h.01M190.9 297.4h.01M191.3 295.7h.01M191.8 306.1h.01M192.2 303.5h.01M192.6 298.6h.01M193.1 293.1h.01M193.5 281.1h.01M194.0 281.6h.01M194.4 283.5h.01M194.8 278.6h.01M195.3 275.9h.01M195.7 279.0h.01M196.2 276.3h.01M196.6 284.8h.01M197.0 284.5h.01M197.5 285.6h.01M197.9 285.2h.01M198.3 294.1h.01M198.8 292.6h.01M199.2 292.8h.01M199.7 298.5h.01M200.1 309.3h.01M200.5 295.0h.01M201.0 292.8h.01M201.4 287.4h.01M201.9 283.9h.01M202.3 287.4h.01M202.7 286.2h.01M203.2 290.0h.01M203.6 292.7h.01M204.1 289.8h.01M204.5 292.3h.01M204.9 292.3h.01M205.4 295.5h.01M205.8 299.2h.01M206.3 297.8h.01M206.7 303.6h.01M207.1 307.5h.01M207.6 310.1h.01M208.0 302.5h.01M208.5 304.0h.01M208.9 307.6h.01M209.3 307.3h.01M209.8 309.7h.01M210.2 307.1h.01M210.6 309.8h.01M211.1 312.1h.01M211.5 311.6h.01M212.0 306.3h.01M212.4 316.0h.01M212.8 310.4h.01M213.3 308.6h.01M213.7 311.3h.01M214.2 313.6h.01M214.6 317.2h.01M215.0 313.5h.01M215.5 316.7h.01M215.9 318.5h.01M216.4 318.2h.01M216.8 316.4h.01M217.2 311.0h.01M217.7 314.8h.01M218.1 310.5h.01M218.6 313.2h.01M219.0 312.5h.01M219.4 311.0h.01M219.9 301.3h.01M220.3 300.7h.01M220.7 301.3h.01M221.2 298.7h.01M221.6 302.5h.01M222.1 307.9h.01M222.5 302.5h.01M222.9 307.3h.01M223.4 314.8h.01M223.8 315.9h.01M224.3 305.8h.01M224.7 314.9h.01M225.1 309.5h.01M225.6 322.8h.01M226.0 319.0h.01M226.5 316.0h.01M226.9 319.4h.01M227.3 322.8h.01M227.8 325.0h.01M228.2 320.7h.01M228.7 319.2h.01M229.1 323.8h.01M229.5 325.2h.01M230.0 329.7h.01M230.4 328.9h.01M230.9 327.7h.01M231.3 330.8h.01M231.7 331.2h.01M232.2 338.2h.01M232.6 335.0h.01M233.0 336.0h.01M233.5 336.9h.01M233.9 339.9h.01M234.4 345.0h.01M234.8 340.1h.01M235.2 343.5h.01M235.7 342.2h.01M236.1 342.4h.01M236.6 345.9h.01M237.0 345.4h.01M237.4 344.6h.01M237.9 345.9h.01M238.3 348.3h.01M238.8 346.6h.01M239.2 350.1h.01M239.6 345.6h.01M240.1 346.7h.01M240.5 346.4h.01M241.0 342.6h.01M241.4 339.8h.01M241.8 342.6h.01M242.3 339.1h.01M242.7 339.9h.01M243.1 338.7h.01M243.6 338.6h.01M244.0 342.7h.01M244.5 340.4h.01M244.9 344.0h.01M245.3 346.3h.01M245.8 348.3h.01M246.2 346.5h.01M246.7 350.0h.01M247.1 347.5h.01M247.5 348.3h.01M248.0 344.9h.01M248.4 346.7h.01M248.9 344.9h.01M249.3 346.2h.01M249.7 345.3h.01M250.2 344.0h.01M250.6 345.5h.01M251.1 340.0h.01M251.5 339.9h.01M251.9 328.8h.01M252.4 332.6h.01M252.8 332.5h.01M253.2 337.8h.01M253.7 339.5h.01M254.1 345.8h.01M254.6 348.9h.01M255.0 348.6h.01M255.4 351.8h.01M255.9 354.1h.01M256.3 360.6h.01M256.8 356.1h.01M257.2 356.8h.01M257.6 361.1h.01M258.1 360.9h.01M258.5 354.1h.01M259.0 352.9h.01M259.4 349.8h.01M259.8 347.5h.01M260.3 346.5h.01M260.7 353.2h.01M261.2 351.9h.01M261.6 353.8h.01M262.0 355.5h.01M262.5 350.5h.01M262.9 358.6h.01M263.4 357.8h.01M263.8 358.4h.01M264.2 352.8h.01M264.7 353.2h.01M265.1 351.6h.01M265.5 351.5h.01M266.0 347.9h.01M266.4 347.7h.01M266.9 342.3h.01M267.3 347.1h.01M267.7 336.8h.01M268.2 335.7h.01M268.6 336.1h.01M269.1 336.7h.01M269.5 342.5h.01M269.9 333.5h.01M270.4 337.0h.01M270.8 341.9h.01M271.3 339.5h.01M271.7 333.8h.01M272.1 336.9h.01M272.6 336.5h.01M273.0 337.4h.01M273.5 338.4h.01M273.9 337.1h.01M274.3 337.3h.01M274.8 337.7h.01M275.2 338.5h.01M275.6 336.3h.01M276.1 336.8h.01M276.5 334.4h.01M277.0 336.2h.01M277.4 336.3h.01M277.8 335.2h.01M278.3 338.6h.01M278.7 336.5h.01M279.2 333.7h.01M279.6 338.9h.01M280.0 338.0h.01M280.5 332.3h.01M280.9 338.0h.01M281.4 335.5h.01M281.8 337.5h.01M282.2 337.7h.01M282.7 338.2h.01M283.1 337.2h.01M283.6 336.6h.01M284.0 337.8h.01M284.4 338.7h.01M284.9 337.6h.01M285.3 339.4h.01M285.7 338.0h.01M286.2 342.2h.01M286.6 338.3h.01M287.1 337.3h.01M287.5 335.3h.01M287.9 337.3h.01M288.4 337.5h.01M288.8 339.0h.01M289.3 339.5h.01M289.7 339.2h.01M290.1 340.9h.01M290.6 341.6h.01M291.0 344.1h.01M291.5 339.8h.01M291.9 339.3h.01M292.3 342.9h.01M292.8 338.4h.01M293.2 341.3h.01M293.7 343.3h.01M294.1 341.7h.01M294.5 342.0h.01M295.0 339.5h.01M295.4 343.1h.01M295.9 347.3h.01M296.3 341.0h.01M296.7 339.3h.01M297.2 344.1h.01M297.6 349.0h.01M298.0 341.6h.01M298.5 344.8h.01M298.9 344.5h.01M299.4 345.4h.01M299.8 345.5h.01M300.2 346.4h.01M300.7 342.3h.01M301.1 346.3h.01M301.6 349.5h.01M302.0 345.0h.01M302.4 348.8h.01M302.9 346.6h.01M303.3 351.9h.01M303.8 346.2h.01M304.2 346.6h.01M304.6 345.6h.01M305.1 349.6h.01M305.5 345.7h.01M306.0 350.5h.01M306.4 351.9h.01M306.8 349.5h.01M307.3 345.6h.01M307.7 348.2h.01M308.1 345.0h.01M308.6 347.9h.01M309.0 347.5h.01M309.5 350.2h.01M309.9 350.2h.01M310.3 349.7h.01M310.8 348.4h.01M311.2 351.3h.01M311.7 352.2h.01M312.1 346.0h.01M312.5 349.2h.01M313.0 348.0h.01M313.4 353.5h.01M313.9 350.3h.01M314.3 349.6h.01M314.7 349.5h.01M315.2 348.7h.01M315.6 350.7h.01M316.1 350.6h.01M316.5 352.5h.01M316.9 351.4h.01M317.4 349.7h.01M317.8 347.9h.01M318.2 347.5h.01M318.7 350.6h.01M319.1 351.0h.01M319.6 349.3h.01M320.0 353.2h.01M320.4 350.9h.01M320.9 346.3h.01M321.3 351.1h.01M321.8 347.1h.01M322.2 351.8h.01M322.6 353.5h.01M323.1 351.5h.01M323.5 349.9h.01M324.0 354.8h.01M324.4 352.2h.01M324.8 354.7h.01M325.3 351.2h.01M325.7 351.0h.01M326.2 349.1h.01M326.6 351.4h.01M327.0 351.9h.01M327.5 350.3h.01M327.9 348.1h.01M328.4 349.8h.01M328.8 351.1h.01M329.2 351.6h.01M329.7 354.6h.01M330.1 352.3h.01M330.5 351.8h.01M331.0 351.9h.01M331.4 347.6h.01M331.9 353.4h.01M332.3 351.1h.01M332.7 350.3h.01M333.2 350.2h.01M333.6 348.8h.01M334.1 353.1h.01M334.5 349.6h.01M334.9 353.7h.01M335.4 353.1h.01M335.8 355.1h.01M336.3 352.8h.01M336.7 352.8h.01M337.1 348.6h.01M337.6 353.4h.01M338.0 356.6h.01M338.5 352.7h.01M338.9 349.8h.01M339.3 351.9h.01M339.8 352.0h.01M340.2 350.7h.01M340.6 356.9h.01M341.1 353.3h.01M341.5 354.9h.01M342.0 353.8h.01M342.4 354.4h.01M342.8 354.5h.01M343.3 350.7h.01M343.7 351.8h.01M344.2 352.7h.01M344.6 349.8h.01M345.0 345.0h.01M345.5 341.7h.01M345.9 339.9h.01M346.4 336.1h.01M346.8 333.3h.01M347.2 331.8h.01M347.7 330.7h.01M348.1 323.0h.01M348.6 321.3h.01M349.0 326.0h.01M349.4 313.2h.01M349.9 316.0h.01M350.3 310.6h.01M350.8 316.5h.01M351.2 309.8h.01M351.6 310.5h.01M352.1 310.0h.01M352.5 308.4h.01M352.9 303.1h.01M353.4 298.9h.01M353.8 300.4h.01M354.3 303.4h.01M354.7 301.2h.01M355.1 298.5h.01M355.6 298.4h.01M356.0 290.4h.01M356.5 289.4h.01M356.9 289.0h.01M357.3 281.1h.01M357.8 271.8h.01M358.2 273.9h.01M358.7 270.3h.01M359.1 267.0h.01M359.5 270.4h.01M360.0 272.1h.01M360.4 274.8h.01M360.9 276.0h.01M361.3 280.2h.01M361.7 281.7h.01M362.2 285.0h.01M362.6 284.8h.01M363.0 288.7h.01M363.5 292.7h.01M363.9 286.4h.01M364.4 288.6h.01M364.8 287.1h.01M365.2 286.5h.01M365.7 287.0h.01M366.1 295.0h.01M366.6 302.8h.01M367.0 298.1h.01M367.4 301.7h.01M367.9 304.1h.01M368.3 296.6h.01M368.8 298.7h.01M369.2 302.8h.01M369.6 300.8h.01M370.1 303.7h.01M370.5 296.4h.01M371.0 291.7h.01M371.4 292.8h.01M371.8 294.0h.01M372.3 286.9h.01M372.7 291.8h.01M373.1 287.6h.01M373.6 289.3h.01M374.0 281.3h.01M374.5 285.9h.01M374.9 279.4h.01M375.3 276.6h.01M375.8 279.9h.01M376.2 277.3h.01M376.7 277.1h.01M377.1 267.4h.01M377.5 270.3h.01M378.0 273.5h.01M378.4 273.3h.01M378.9 274.3h.01M379.3 277.8h.01M379.7 270.6h.01M380.2 266.8h.01M380.6 260.6h.01M381.1 259.9h.01M381.5 261.5h.01M381.9 249.7h.01M382.4 247.1h.01M382.8 250.3h.01M383.3 258.7h.01M383.7 268.1h.01M384.1 264.3h.01M384.6 267.4h.01M385.0 267.8h.01M385.4 267.2h.01M385.9 268.4h.01M386.3 272.6h.01M386.8 274.5h.01M387.2 287.9h.01M387.6 286.8h.01M388.1 285.3h.01M388.5 292.7h.01M389.0 290.0h.01M389.4 287.0h.01M389.8 297.9h.01M390.3 292.7h.01M390.7 297.6h.01M391.2 303.5h.01M391.6 303.3h.01M392.0 302.4h.01M392.5 308.1h.01M392.9 304.8h.01M393.4 298.1h.01M393.8 298.0h.01M394.2 296.6h.01M394.7 295.2h.01M395.1 287.6h.01M395.5 290.4h.01M396.0 293.9h.01M396.4 292.0h.01M396.9 290.9h.01M397.3 292.0h.01M397.7 297.7h.01M398.2 292.1h.01M398.6 291.7h.01M399.1 293.3h.01M399.5 292.0h.01M399.9 290.9h.01M400.4 293.2h.01M400.8 288.3h.01M401.3 293.6h.01M401.7 285.3h.01M402.1 282.1h.01M402.6 281.1h.01M403.0 280.8h.01M403.5 276.8h.01M403.9 266.4h.01M404.3 282.7h.01M404.8 270.6h.01M405.2 278.7h.01M405.6 270.7h.01M406.1 281.1h.01M406.5 273.8h.01M407.0 272.0h.01M407.4 268.7h.01M407.8 275.9h.01M408.3 265.3h.01M408.7 268.7h.01M409.2 266.2h.01M409.6 272.5h.01M410.0 273.5h.01M410.5 270.8h.01M410.9 266.9h.01M411.4 275.1h.01M411.8 274.8h.01M412.2 278.8h.01M412.7 282.2h.01M413.1 281.5h.01M413.6 283.4h.01M414.0 280.3h.01M414.4 282.5h.01M414.9 281.1h.01M415.3 283.1h.01M415.8 284.6h.01M416.2 282.5h.01M416.6 282.9h.01M417.1 285.1h.01M417.5 287.6h.01M417.9 278.6h.01M418.4 289.0h.01M418.8 285.6h.01M419.3 288.8h.01M419.7 283.0h.01M420.1 281.3h.01M420.6 288.3h.01M421.0 285.3h.01M421.5 292.8h.01M421.9 291.1h.01M422.3 288.9h.01M422.8 288.1h.01M423.2 291.6h.01M423.7 289.6h.01M424.1 286.9h.01M424.5 286.7h.01M425.0 287.0h.01M425.4 283.4h.01M425.9 283.7h.01M426.3 287.0h.01M426.7 284.6h.01M427.2 279.7h.01M427.6 282.9h.01M428.0 282.6h.01M428.5 273.3h.01M428.9 276.5h.01M429.4 270.7h.01M429.8 276.3h.01M430.2 271.6h.01M430.7 274.7h.01M431.1 277.5h.01M431.6 288.3h.01M432.0 287.1h.01M432.4 291.3h.01M432.9 288.5h.01M433.3 291.2h.01M433.8 285.5h.01M434.2 289.3h.01M434.6 288.8h.01M435.1 294.5h.01M435.5 286.7h.01M436.0 287.1h.01M436.4 292.1h.01M436.8 296.9h.01M437.3 293.3h.01M437.7 292.1h.01M438.1 296.5h.01M438.6 297.5h.01M439.0 293.6h.01M439.5 293.1h.01M439.9 302.4h.01M440.3 297.5h.01M440.8 302.2h.01M441.2 296.9h.01M441.7 304.5h.01M442.1 303.6h.01M442.5 301.9h.01M443.0 294.3h.01M443.4 298.7h.01M443.9 296.4h.01M444.3 298.4h.01M444.7 292.4h.01M445.2 298.4h.01M445.6 291.1h.01M446.1 299.6h.01M446.5 289.8h.01M446.9 290.5h.01M447.4 289.7h.01M447.8 288.5h.01M448.3 285.3h.01M448.7 291.2h.01M449.1 285.0h.01M449.6 280.9h.01M450.0 282.4h.01M450.4 284.0h.01M450.9 292.9h.01M451.3 288.4h.01M451.8 292.3h.01M452.2 295.5h.01M452.6 298.6h.01M453.1 296.9h.01M453.5 297.9h.01M454.0 294.5h.01M454.4 300.4h.01M454.8 294.6h.01M455.3 308.4h.01M455.7 302.6h.01M456.2 302.0h.01M456.6 307.8h.01M457.0 304.8h.01M457.5 302.0h.01M457.9 297.2h.01M458.4 301.8h.01M458.8 291.6h.01M459.2 301.5h.01M459.7 297.2h.01M460.1 295.5h.01M460.5 292.7h.01M461.0 295.1h.01M461.4 287.7h.01M461.9 287.6h.01M462.3 284.4h.01M462.7 288.0h.01M463.2 289.1h.01M463.6 282.0h.01M464.1 292.4h.01M464.5 290.7h.01M464.9 290.3h.01M465.4 292.4h.01M465.8 288.5h.01M466.3 293.7h.01M466.7 294.8h.01M467.1 293.6h.01M467.6 296.7h.01M468.0 292.7h.01M468.5 299.3h.01M468.9 297.8h.01M469.3 293.7h.01M469.8 295.9h.01M470.2 296.1h.01M470.6 295.0h.01M471.1 290.9h.01M471.5 290.1h.01M472.0 290.8h.01M472.4 290.9h.01M472.8 281.8h.01M473.3 290.5h.01M473.7 289.1h.01M474.2 284.9h.01M474.6 287.3h.01M475.0 283.8h.01M475.5 286.3h.01M475.9 288.1h.01M476.4 288.9h.01M476.8 282.7h.01M477.2 285.7h.01M477.7 290.1h.01M478.1 288.3h.01M478.6 286.6h.01M479.0 286.5h.01M479.4 285.3h.01M479.9 285.8h.01M480.3 282.1h.01M480.8 284.2h.01M481.2 282.3h.01M481.6 277.9h.01M482.1 286.6h.01M482.5 283.4h.01M482.9 285.8h.01M483.4 281.9h.01M483.8 283.3h.01M484.3 276.2h.01M484.7 278.0h.01M485.1 282.5h.01M485.6 278.5h.01M486.0 273.7h.01M486.5 278.6h.01M486.9 276.5h.01M487.3 279.6h.01M487.8 270.9h.01M488.2 275.7h.01M488.7 271.2h.01M489.1 271.3h.01M489.5 270.1h.01M490.0 267.7h.01M490.4 266.9h.01M490.9 261.6h.01M491.3 257.4h.01M491.7 263.0h.01M492.2 255.1h.01M492.6 255.0h.01M493.0 257.8h.01M493.5 254.9h.01M493.9 258.0h.01M494.4 255.9h.01M494.8 256.3h.01M495.2 256.1h.01M495.7 258.8h.01M496.1 262.6h.01M496.6 262.7h.01M497.0 257.6h.01M497.4 263.4h.01M497.9 257.8h.01M498.3 259.1h.01M498.8 257.0h.01M499.2 245.8h.01M499.6 255.2h.01M500.1 251.2h.01M500.5 249.1h.01M501.0 251.8h.01M501.4 246.1h.01M501.8 246.3h.01M502.3 247.6h.01M502.7 245.2h.01M503.2 248.5h.01M503.6 241.4h.01M504.0 243.2h.01M504.5 242.6h.01M504.9 242.6h.01M505.3 242.0h.01M505.8 243.2h.01M506.2 243.9h.01M506.7 249.0h.01M507.1 246.1h.01M507.5 250.7h.01M508.0 249.3h.01M508.4 244.4h.01M508.9 247.4h.01M509.3 243.6h.01M509.7 242.4h.01M510.2 239.2h.01M510.6 241.1h.01M511.1 240.1h.01M511.5 234.2h.01M511.9 240.3h.01M512.4 244.3h.01M512.8 236.9h.01M513.3 237.8h.01M513.7 241.6h.01M514.1 245.4h.01M514.6 245.1h.01M515.0 242.7h.01M515.4 238.1h.01M515.9 239.8h.01M516.3 238.9h.01M516.8 244.7h.01M517.2 242.3h.01M517.6 239.8h.01M518.1 239.8h.01M518.5 238.8h.01M519.0 238.3h.01M519.4 238.4h.01M519.8 230.3h.01M520.3 230.2h.01M520.7 233.6h.01M521.2 227.9h.01M521.6 234.0h.01M522.0 227.1h.01M522.5 231.9h.01M522.9 230.9h.01M523.4 221.8h.01M523.8 230.1h.01M524.2 230.8h.01M524.7 222.0h.01M525.1 224.6h.01M525.5 228.7h.01M526.0 223.7h.01M526.4 229.2h.01M526.9 227.4h.01M527.3 218.8h.01M527.7 225.8h.01M528.2 226.7h.01M528.6 222.2h.01M529.1 222.3h.01M529.5 226.4h.01M529.9 217.3h.01M530.4 218.3h.01M530.8 225.7h.01M531.3 220.9h.01M531.7 226.1h.01M532.1 216.1h.01M532.6 224.3h.01M533.0 220.7h.01M533.5 221.7h.01M533.9 223.5h.01M534.3 223.1h.01M534.8 218.9h.01M535.2 224.6h.01M535.7 226.8h.01M536.1 229.5h.01M536.5 230.5h.01M537.0 221.8h.01M537.4 224.9h.01M537.8 221.6h.01M538.3 216.7h.01M538.7 217.1h.01M539.2 208.4h.01M539.6 217.4h.01M540.0 207.1h.01M540.5 205.9h.01M540.9 203.5h.01M541.4 205.0h.01M541.8 205.6h.01M542.2 204.6h.01M542.7 208.6h.01M543.1 207.0h.01M543.6 201.2h.01M544.0 198.7h.01M544.4 190.6h.01M544.9 192.3h.01M545.3 194.7h.01M545.8 194.4h.01M546.2 188.2h.01M546.6 191.3h.01M547.1 193.4h.01M547.5 185.3h.01M547.9 188.8h.01M548.4 189.5h.01M548.8 198.9h.01M549.3 203.5h.01M549.7 210.7h.01M550.1 210.3h.01M550.6 220.0h.01M551.0 229.3h.01M551.5 237.2h.01M551.9 232.1h.01M552.3 224.4h.01M552.8 223.8h.01M553.2 211.0h.01M553.7 207.6h.01M554.1 208.6h.01M554.5 208.4h.01M555.0 203.5h.01M555.4 206.4h.01M555.9 201.2h.01M556.3 206.8h.01M556.7 215.0h.01M557.2 221.0h.01M557.6 227.3h.01M558.0 230.6h.01M558.5 231.6h.01M558.9 222.8h.01M559.4 217.3h.01M559.8 208.4h.01M560.2 207.8h.01M560.7 208.0h.01M561.1 208.5h.01M561.6 213.0h.01M562.0 216.1h.01M562.4 202.6h.01M562.9 185.2h.01M563.3 170.5h.01M563.8 187.9h.01M564.2 205.7h.01M564.6 227.9h.01M565.1 250.0h.01M565.5 269.7h.01M566.0 258.3h.01M566.4 242.3h.01M566.8 227.6h.01M567.3 213.9h.01M567.7 199.0h.01M568.2 191.6h.01M568.6 185.5h.01M569.0 181.8h.01M569.5 184.1h.01M569.9 174.7h.01M570.3 169.9h.01M570.8 169.7h.01M571.2 177.1h.01M571.7 178.4h.01M572.1 179.0h.01M572.5 186.9h.01M573.0 184.3h.01M573.4 192.1h.01M573.9 200.1h.01M574.3 201.4h.01M574.7 203.7h.01M575.2 212.7h.01M575.6 211.7h.01M576.1 203.7h.01M576.5 197.5h.01M576.9 196.9h.01M577.4 187.3h.01M577.8 176.2h.01M578.3 167.6h.01M578.7 161.3h.01M579.1 148.5h.01M579.6 148.8h.01M580.0 154.7h.01M580.4 160.8h.01M580.9 163.7h.01M581.3 171.0h.01M581.8 176.3h.01M582.2 180.1h.01M582.6 191.3h.01M583.1 195.1h.01M583.5 196.7h.01M584.0 198.3h.01M584.4 208.5h.01M584.8 206.3h.01M585.3 213.1h.01M585.7 214.5h.01M586.2 213.7h.01M586.6 210.5h.01M587.0 201.0h.01M587.5 201.7h.01M587.9 192.3h.01M588.4 190.6h.01M588.8 188.8h.01M589.2 184.4h.01M589.7 180.2h.01M590.1 176.9h.01M590.5 180.5h.01M591.0 190.6h.01M591.4 192.4h.01M591.9 197.1h.01M592.3 201.9h.01M592.7 208.4h.01M593.2 216.1h.01M593.6 211.8h.01M594.1 200.5h.01M594.5 194.7h.01M594.9 184.3h.01M595.4 182.5h.01M595.8 172.3h.01M596.3 165.2h.01M596.7 165.9h.01M597.1 155.0h.01M597.6 158.4h.01M598.0 151.3h.01M598.5 150.0h.01M598.9 149.3h.01M599.3 152.2h.01M599.8 150.4h.01M600.2 158.4h.01M600.7 156.2h.01M601.1 150.2h.01M601.5 151.1h.01M602.0 155.8h.01M602.4 159.7h.01M602.8 158.8h.01M603.3 154.4h.01M603.7 148.7h.01M604.2 144.9h.01M604.6 139.2h.01M605.0 136.0h.01M605.5 135.4h.01M605.9 137.2h.01M606.4 127.0h.01M606.8 123.2h.01M607.2 125.0h.01M607.7 125.9h.01M608.1 127.9h.01M608.6 125.5h.01M609.0 136.5h.01M609.4 137.2h.01M609.9 133.5h.01M610.3 132.4h.01M610.8 122.2h.01M611.2 127.5h.01M611.6 120.2h.01M612.1 119.5h.01M612.5 120.6h.01M612.9 119.3h.01M613.4 116.9h.01M613.8 117.3h.01M614.3 113.7h.01M614.7 124.6h.01M615.1 120.7h.01M615.6 122.5h.01M616.0 128.1h.01M616.5 132.9h.01M616.9 132.7h.01M617.3 140.1h.01M617.8 140.3h.01M618.2 141.3h.01M618.7 146.3h.01M619.1 148.8h.01M619.5 153.0h.01M620.0 155.7h.01M620.4 161.3h.01M620.9 161.4h.01M621.3 164.7h.01M621.7 169.6h.01M622.2 175.7h.01M622.6 177.8h.01M623.1 178.6h.01M623.5 185.2h.01M623.9 187.3h.01M624.4 190.4h.01M624.8 197.3h.01M625.2 207.6h.01M625.7 220.0h.01M626.1 221.5h.01M626.6 233.5h.01M627.0 246.4h.01M627.4 252.0h.01M627.9 264.8h.01M628.3 265.6h.01M628.8 265.9h.01M629.2 268.2h.01M629.6 273.1h.01M630.1 271.9h.01M630.5 269.3h.01M631.0 268.4h.01M631.4 274.4h.01M631.8 268.1h.01M632.3 270.9h.01M632.7 275.3h.01M633.2 268.8h.01M633.6 271.2h.01M634.0 271.9h.01M634.5 271.4h.01M634.9 274.1h.01M635.3 269.3h.01M635.8 273.1h.01M636.2 274.3h.01M636.7 271.8h.01M637.1 270.6h.01M637.5 276.7h.01M638.0 273.6h.01M638.4 279.5h.01M638.9 274.7h.01M639.3 277.3h.01M639.7 274.6h.01M640.2 272.5h.01M640.6 272.1h.01M641.1 273.4h.01M641.5 272.3h.01M641.9 272.5h.01M642.4 274.0h.01M642.8 275.9h.01M643.3 276.1h.01M643.7 274.1h.01M644.1 272.7h.01M644.6 273.7h.01M645.0 275.9h.01M645.4 274.5h.01M645.9 278.2h.01M646.3 274.4h.01M646.8 279.3h.01M647.2 272.7h.01M647.6 273.8h.01M648.1 278.4h.01M648.5 273.2h.01M649.0 273.1h.01M649.4 276.4h.01M649.8 275.8h.01M650.3 274.2h.01M650.7 279.7h.01M651.2 277.6h.01M651.6 276.5h.01M652.0 274.6h.01M652.5 274.3h.01M652.9 278.2h.01M653.4 276.3h.01M653.8 273.8h.01M654.2 276.9h.01M654.7 275.9h.01M655.1 275.1h.01M655.6 274.3h.01M656.0 278.1h.01M656.4 274.8h.01M656.9 275.8h.01M657.3 278.1h.01M657.7 276.8h.01M658.2 276.2h.01M658.6 275.1h.01M659.1 277.2h.01M659.5 274.5h.01M659.9 272.8h.01M660.4 275.0h.01M660.8 276.4h.01M661.3 275.5h.01M661.7 270.6h.01M662.1 276.0h.01M662.6 277.5h.01M663.0 276.1h.01M663.5 277.9h.01M663.9 277.9h.01M664.3 276.6h.01M664.8 275.9h.01M665.2 276.1h.01M665.7 272.8h.01M666.1 272.4h.01M666.5 275.7h.01M667.0 273.3h.01M667.4 275.7h.01M667.8 282.0h.01M668.3 278.2h.01M668.7 276.4h.01M669.2 278.2h.01M669.6 277.1h.01M670.0 274.5h.01M670.5 278.3h.01M670.9 278.0h.01M671.4 276.8h.01M671.8 275.5h.01M672.2 277.8h.01M672.7 277.0h.01M673.1 275.5h.01M673.6 276.4h.01M674.0 278.5h.01M674.4 278.5h.01M674.9 276.3h.01M675.3 275.1h.01M675.8 273.4h.01M676.2 275.3h.01M676.6 276.7h.01M677.1 277.1h.01M677.5 270.6h.01M677.9 271.1h.01M678.4 278.0h.01M678.8 276.7h.01M679.3 276.6h.01M679.7 274.9h.01M680.1 277.4h.01M680.6 277.4h.01M681.0 272.3h.01M681.5 273.2h.01M681.9 277.1h.01M682.3 275.7h.01M682.8 278.6h.01M683.2 271.0h.01M683.7 277.8h.01M684.1 279.4h.01M684.5 276.7h.01M685.0 277.0h.01M685.4 273.7h.01M685.9 274.4h.01M686.3 276.4h.01M686.7 274.6h.01M687.2 271.8h.01M687.6 274.9h.01M688.1 276.6h.01M688.5 275.3h.01M688.9 273.2h.01M689.4 273.9h.01M689.8 275.7h.01M690.2 275.5h.01M690.7 276.3h.01M691.1 270.7h.01M691.6 272.1h.01M692.0 271.9h.01M692.4 276.2h.01M692.9 277.6h.01M693.3 269.7h.01M693.8 274.5h.01M694.2 273.1h.01M694.6 271.8h.01M695.1 275.9h.01M695.5 271.2h.01M696.0 274.7h.01M696.4 271.4h.01M696.8 276.6h.01M697.3 273.0h.01M697.7 272.9h.01M698.2 270.6h.01M698.6 276.7h.01M699.0 276.5h.01M699.5 275.8h.01M699.9 274.2h.01M700.3 263.5h.01M700.8 267.3h.01M701.2 271.1h.01M701.7 273.4h.01M702.1 272.4h.01M702.5 273.8h.01M703.0 272.3h.01M703.4 273.9h.01M703.9 272.6h.01M704.3 275.4h.01M704.7 273.3h.01M705.2 272.1h.01M705.6 272.7h.01M706.1 271.3h.01M706.5 273.8h.01M706.9 271.9h.01M707.4 274.0h.01M707.8 273.8h.01M708.3 274.5h.01M708.7 274.0h.01M709.1 270.4h.01M709.6 274.7h.01M710.0 271.7h.01M710.4 273.0h.01M710.9 269.4h.01M711.3 274.5h.01M711.8 272.3h.01M712.2 270.9h.01M712.6 269.8h.01M713.1 269.8h.01M713.5 270.6h.01M714.0 270.3h.01M714.4 273.3h.01M714.8 272.3h.01M715.3 276.6h.01M715.7 270.5h.01M716.2 269.7h.01M716.6 271.5h.01M717.0 273.4h.01M717.5 268.1h.01M717.9 271.3h.01M718.4 271.0h.01M718.8 271.7h.01M719.2 268.4h.01M719.7 270.2h.01M720.1 272.1h.01M720.6 273.4h.01M721.0 272.2h.01M721.4 274.9h.01M721.9 271.5h.01M722.3 268.8h.01M722.7 269.0h.01M723.2 271.3h.01M723.6 269.2h.01M724.1 272.5h.01M724.5 269.2h.01M724.9 270.2h.01M725.4 265.3h.01M725.8 271.8h.01M726.3 269.9h.01M726.7 271.5h.01" stroke="#ff0000" stroke-width="3.2" stroke-linecap="round" fill="none"/>
<text transform="translate(20.00 390.40) scale(0.9550 1)" fill="#cec985" stroke="#cec985" stroke-width="0.35" text-anchor="middle" font-weight="normal" font-size="16.90">980</text>
<text transform="translate(69.90 390.60) scale(0.8970 1)" fill="#ff0000" text-anchor="middle" font-weight="bold" font-size="17.60">0.00</text>
<text transform="translate(749.50 390.60) scale(0.8970 1)" fill="#0000ff" text-anchor="middle" font-weight="bold" font-size="17.60">0</text>
<text transform="translate(788.50 390.40) scale(0.9550 1)" fill="#cccccc" stroke="#cccccc" stroke-width="0.35" text-anchor="middle" font-weight="normal" font-size="16.90">10</text>
<text transform="translate(20.00 320.68) scale(0.9550 1)" fill="#cec985" stroke="#cec985" stroke-width="0.35" text-anchor="middle" font-weight="normal" font-size="16.90">990</text>
<text transform="translate(69.90 320.88) scale(0.8970 1)" fill="#ff0000" text-anchor="middle" font-weight="bold" font-size="17.60">0.02</text>
<text transform="translate(749.50 320.88) scale(0.8970 1)" fill="#0000ff" text-anchor="middle" font-weight="bold" font-size="17.60">20</text>
<text transform="translate(788.50 320.68) scale(0.9550 1)" fill="#cccccc" stroke="#cccccc" stroke-width="0.35" text-anchor="middle" font-weight="normal" font-size="16.90">15</text>
<text transform="translate(20.00 250.96) scale(0.9550 1)" fill="#cec985" stroke="#cec985" stroke-width="0.35" text-anchor="middle" font-weight="normal" font-size="16.90">1000</text>
<text transform="translate(69.90 251.16) scale(0.8970 1)" fill="#ff0000" text-anchor="middle" font-weight="bold" font-size="17.60">0.04</text>
<text transform="translate(749.50 251.16) scale(0.8970 1)" fill="#0000ff" text-anchor="middle" font-weight="bold" font-size="17.60">40</text>
<text transform="translate(788.50 250.96) scale(0.9550 1)" fill="#cccccc" stroke="#cccccc" stroke-width="0.35" text-anchor="middle" font-weight="normal" font-size="16.90">20</text>
<text transform="translate(20.00 181.24) scale(0.9550 1)" fill="#cec985" stroke="#cec985" stroke-width="0.35" text-anchor="middle" font-weight="normal" font-size="16.90">1010</text>
<text transform="translate(69.90 181.44) scale(0.8970 1)" fill="#ff0000" text-anchor="middle" font-weight="bold" font-size="17.60">0.06</text>
<text transform="translate(749.50 181.44) scale(0.8970 1)" fill="#0000ff" text-anchor="middle" font-weight="bold" font-size="17.60">60</text>
<text transform="translate(788.50 181.24) scale(0.9550 1)" fill="#cccccc" stroke="#cccccc" stroke-width="0.35" text-anchor="middle" font-weight="normal" font-size="16.90">25</text>
<text transform="translate(20.00 111.52) scale(0.9550 1)" fill="#cec985" stroke="#cec985" stroke-width="0.35" text-anchor="middle" font-weight="normal" font-size="16.90">1020</text>
<text transform="translate(69.90 111.72) scale(0.8970 1)" fill="#ff0000" text-anchor="middle" font-weight="bold" font-size="17.60">0.08</text>
<text transform="translate(749.50 111.72) scale(0.8970 1)" fill="#0000ff" text-anchor="middle" font-weight="bold" font-size="17.60">80</text>
<text transform="translate(788.50 111.52) scale(0.9550 1)" fill="#cccccc" stroke="#cccccc" stroke-width="0.35" text-anchor="middle" font-weight="normal" font-size="16.90">30</text>
<text transform="translate(20.00 41.80) scale(0.9550 1)" fill="#cec985" stroke="#cec985" stroke-width="0.35" text-anchor="middle" font-weight="normal" font-size="16.90">1030</text>
<text transform="translate(69.90 42.00) scale(0.8970 1)" fill="#ff0000" text-anchor="middle" font-weight="bold" font-size="17.60">0.10</text>
<text transform="translate(749.50 42.00) scale(0.8970 1)" fill="#0000ff" text-anchor="middle" font-weight="bold" font-size="17.60">100</text>
<text transform="translate(788.50 41.80) scale(0.9550 1)" fill="#cccccc" stroke="#cccccc" stroke-width="0.35" text-anchor="middle" font-weight="normal" font-size="16.90">35</text>
<text transform="translate(95.00 408.80) scale(0.8700 1)" fill="#000" stroke="#000" stroke-width="0.30" text-anchor="middle" font-weight="bold" font-size="19.90">00:00</text>
<text transform="translate(174.00 408.80) scale(0.8700 1)" fill="#000" stroke="#000" stroke-width="0.30" text-anchor="middle" font-weight="bold" font-size="19.90">03:00</text>
<text transform="translate(253.00 408.80) scale(0.8700 1)" fill="#000" stroke="#000" stroke-width="0.30" text-anchor="middle" font-weight="bold" font-size="19.90">06:00</text>
<text transform="translate(332.00 408.80) scale(0.8700 1)" fill="#000" stroke="#000" stroke-width="0.30" text-anchor="middle" font-weight="bold" font-size="19.90">09:00</text>
<text transform="translate(411.00 408.80) scale(0.8700 1)" fill="#000" stroke="#000" stroke-width="0.30" text-anchor="middle" font-weight="bold" font-size="19.90">12:00</text>
<text transform="translate(490.00 408.80) scale(0.8700 1)" fill="#000" stroke="#000" stroke-width="0.30" text-anchor="middle" font-weight="bold" font-size="19.90">15:00</text>
<text transform="translate(569.00 408.80) scale(0.8700 1)" fill="#000" stroke="#000" stroke-width="0.30" text-anchor="middle" font-weight="bold" font-size="19.90">18:00</text>
<text transform="translate(648.00 408.80) scale(0.8700 1)" fill="#000" stroke="#000" stroke-width="0.30" text-anchor="middle" font-weight="bold" font-size="19.90">21:00</text>
<text transform="translate(727.00 408.80) scale(0.8700 1)" fill="#000" stroke="#000" stroke-width="0.30" text-anchor="middle" font-weight="bold" font-size="19.90">00:00</text>
<text transform="translate(415.30 427.60) scale(0.8720 1)" fill="#000" stroke="#000" stroke-width="0.30" text-anchor="middle" font-weight="bold" font-size="19.90">Time (JST)</text>
<text transform="translate(726.70 427.60) scale(0.8720 1)" fill="#000" stroke="#000" stroke-width="0.30" text-anchor="end" font-weight="bold" font-size="19.90">2008-05-20</text>
<text transform="translate(94.10 23.20) scale(0.8580 1)" fill="#ff0000" text-anchor="start" font-weight="bold" font-size="18.40">Scattering Coefficient (km</text>
<text transform="translate(289.50 15.00) scale(0.9000 1)" fill="#ff0000" text-anchor="start" font-weight="bold" font-size="10.80">-1</text>
<text transform="translate(298.30 23.20) scale(0.8580 1)" fill="#ff0000" text-anchor="start" font-weight="bold" font-size="18.40">)</text>
<text transform="translate(319.50 23.20) scale(0.8580 1)" fill="#0000ff" text-anchor="start" font-weight="bold" font-size="18.40">Relative Humidity(%)</text>
<text transform="translate(494.10 23.20) scale(0.8580 1)" fill="#cec985" text-anchor="start" font-weight="bold" font-size="18.40">Pressure (hPa)</text>
<text transform="translate(622.70 23.10) scale(0.9510 1)" fill="#cccccc" stroke="#cccccc" stroke-width="0.35" text-anchor="start" font-weight="normal" font-size="17.56">Temperature (</text>
<text transform="translate(729.20 23.10) scale(0.9510 1)" fill="#cccccc" stroke="#cccccc" stroke-width="0.35" text-anchor="start" font-weight="normal" font-size="17.56">C)</text>
<circle cx="728.4" cy="4.4" r="1.3" fill="none" stroke="#cccccc" stroke-width="0.7"/><rect x="82.3" y="17.00" width="6.4" height="2.3" fill="#ff0000"/><rect x="307.3" y="17.00" width="6.4" height="2.3" fill="#0000ff"/><rect x="481.7" y="17.00" width="6.4" height="2.3" fill="#cec985"/><rect x="609.9" y="17.25" width="6.4" height="1.8" fill="#cccccc"/>
</svg>
</body></html>
